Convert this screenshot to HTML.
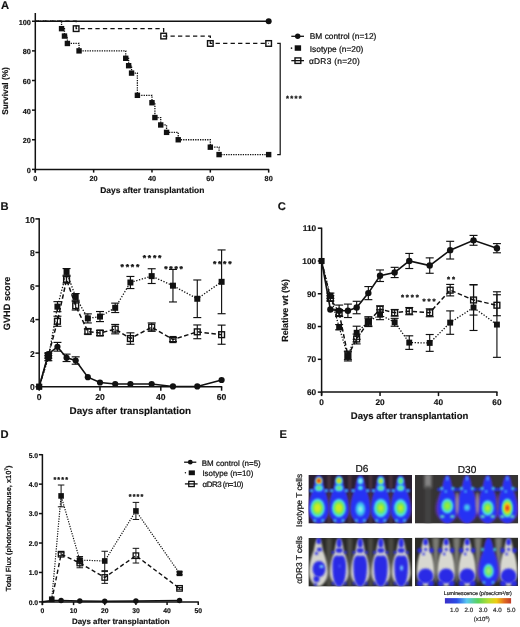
<!DOCTYPE html>
<html><head><meta charset="utf-8"><style>
html,body{margin:0;padding:0;background:#fff;}
body{width:520px;height:627px;overflow:hidden;}
svg{display:block;will-change:transform;text-rendering:geometricPrecision;}
</style></head><body>
<svg width="520" height="627" viewBox="0 0 520 627" font-family='"Liberation Sans", sans-serif'>
<rect width="520" height="627" fill="#fff"/>
<g>
<text x="1.00" y="8.90" font-size="11.2" text-anchor="start" font-weight="bold" fill="#111" stroke="#111" stroke-width="0.15">A</text>
<line x1="35.30" y1="169.40" x2="269.16" y2="169.40" stroke="#111" stroke-width="1.5" stroke-linecap="butt"/>
<line x1="35.30" y1="172.60" x2="35.30" y2="13.00" stroke="#111" stroke-width="1.5" stroke-linecap="butt"/>
<line x1="32.00" y1="169.40" x2="35.30" y2="169.40" stroke="#111" stroke-width="1.5" stroke-linecap="butt"/>
<text x="30.90" y="172.80" font-size="7.3" text-anchor="end" font-weight="bold" fill="#111" stroke="#111" stroke-width="0.15">0</text>
<line x1="32.00" y1="139.77" x2="35.30" y2="139.77" stroke="#111" stroke-width="1.5" stroke-linecap="butt"/>
<text x="30.90" y="143.17" font-size="7.3" text-anchor="end" font-weight="bold" fill="#111" stroke="#111" stroke-width="0.15">20</text>
<line x1="32.00" y1="110.14" x2="35.30" y2="110.14" stroke="#111" stroke-width="1.5" stroke-linecap="butt"/>
<text x="30.90" y="113.54" font-size="7.3" text-anchor="end" font-weight="bold" fill="#111" stroke="#111" stroke-width="0.15">40</text>
<line x1="32.00" y1="80.51" x2="35.30" y2="80.51" stroke="#111" stroke-width="1.5" stroke-linecap="butt"/>
<text x="30.90" y="83.91" font-size="7.3" text-anchor="end" font-weight="bold" fill="#111" stroke="#111" stroke-width="0.15">60</text>
<line x1="32.00" y1="50.88" x2="35.30" y2="50.88" stroke="#111" stroke-width="1.5" stroke-linecap="butt"/>
<text x="30.90" y="54.28" font-size="7.3" text-anchor="end" font-weight="bold" fill="#111" stroke="#111" stroke-width="0.15">80</text>
<line x1="32.00" y1="21.25" x2="35.30" y2="21.25" stroke="#111" stroke-width="1.5" stroke-linecap="butt"/>
<text x="30.90" y="24.65" font-size="7.3" text-anchor="end" font-weight="bold" fill="#111" stroke="#111" stroke-width="0.15">100</text>
<line x1="35.30" y1="169.40" x2="35.30" y2="172.60" stroke="#111" stroke-width="1.5" stroke-linecap="butt"/>
<text x="35.30" y="181.00" font-size="7.3" text-anchor="middle" font-weight="bold" fill="#111" stroke="#111" stroke-width="0.15">0</text>
<line x1="93.64" y1="169.40" x2="93.64" y2="172.60" stroke="#111" stroke-width="1.5" stroke-linecap="butt"/>
<text x="93.64" y="181.00" font-size="7.3" text-anchor="middle" font-weight="bold" fill="#111" stroke="#111" stroke-width="0.15">20</text>
<line x1="151.98" y1="169.40" x2="151.98" y2="172.60" stroke="#111" stroke-width="1.5" stroke-linecap="butt"/>
<text x="151.98" y="181.00" font-size="7.3" text-anchor="middle" font-weight="bold" fill="#111" stroke="#111" stroke-width="0.15">40</text>
<line x1="210.32" y1="169.40" x2="210.32" y2="172.60" stroke="#111" stroke-width="1.5" stroke-linecap="butt"/>
<text x="210.32" y="181.00" font-size="7.3" text-anchor="middle" font-weight="bold" fill="#111" stroke="#111" stroke-width="0.15">60</text>
<line x1="268.66" y1="169.40" x2="268.66" y2="172.60" stroke="#111" stroke-width="1.5" stroke-linecap="butt"/>
<text x="268.66" y="181.00" font-size="7.3" text-anchor="middle" font-weight="bold" fill="#111" stroke="#111" stroke-width="0.15">80</text>
<text x="152.30" y="193.40" font-size="8.45" text-anchor="middle" font-weight="bold" fill="#111" stroke="#111" stroke-width="0.15">Days after transplantation</text>
<text x="7.70" y="91.00" font-size="8.35" text-anchor="middle" font-weight="bold" transform="rotate(-90 7.70 91.00)" fill="#111" stroke="#111" stroke-width="0.15">Survival (%)</text>
<line x1="35.30" y1="21.25" x2="268.66" y2="21.25" stroke="#111" stroke-width="1.5" stroke-linecap="butt"/>
<circle cx="268.66" cy="21.25" r="3.0" fill="#111"/>
<polyline points="35.30,21.25 61.55,21.25 61.55,28.66 64.47,28.66 64.47,36.06 67.39,36.06 67.39,43.47 79.05,43.47 79.05,50.88 125.73,50.88 125.73,58.29 128.64,58.29 128.64,65.70 131.56,65.70 131.56,73.10 137.39,73.10 137.39,95.33 151.98,95.33 151.98,102.73 154.90,102.73 154.90,117.55 160.73,117.55 160.73,124.96 166.56,124.96 166.56,132.36 178.23,132.36 178.23,139.77 210.32,139.77 210.32,147.18 219.07,147.18 219.07,154.59 268.66,154.59" fill="none" stroke="#111" stroke-width="1.3" stroke-dasharray="1.3 1.1" stroke-linecap="butt" stroke-linejoin="miter"/>
<rect x="58.85" y="25.96" width="5.4" height="5.4" fill="#111"/>
<rect x="61.77" y="33.36" width="5.4" height="5.4" fill="#111"/>
<rect x="64.69" y="40.77" width="5.4" height="5.4" fill="#111"/>
<rect x="76.35" y="48.18" width="5.4" height="5.4" fill="#111"/>
<rect x="123.03" y="55.59" width="5.4" height="5.4" fill="#111"/>
<rect x="125.94" y="63.00" width="5.4" height="5.4" fill="#111"/>
<rect x="128.86" y="70.40" width="5.4" height="5.4" fill="#111"/>
<rect x="134.69" y="92.62" width="5.4" height="5.4" fill="#111"/>
<rect x="149.28" y="100.03" width="5.4" height="5.4" fill="#111"/>
<rect x="152.20" y="114.85" width="5.4" height="5.4" fill="#111"/>
<rect x="158.03" y="122.26" width="5.4" height="5.4" fill="#111"/>
<rect x="163.87" y="129.66" width="5.4" height="5.4" fill="#111"/>
<rect x="175.53" y="137.07" width="5.4" height="5.4" fill="#111"/>
<rect x="207.62" y="144.48" width="5.4" height="5.4" fill="#111"/>
<rect x="216.37" y="151.89" width="5.4" height="5.4" fill="#111"/>
<rect x="265.96" y="151.89" width="5.4" height="5.4" fill="#111"/>
<rect x="73.34" y="25.86" width="5.60" height="5.60" fill="none" stroke="#111" stroke-width="1.4"/>
<rect x="160.85" y="33.27" width="5.60" height="5.60" fill="none" stroke="#111" stroke-width="1.4"/>
<rect x="207.52" y="40.67" width="5.60" height="5.60" fill="none" stroke="#111" stroke-width="1.4"/>
<rect x="265.86" y="40.67" width="5.60" height="5.60" fill="none" stroke="#111" stroke-width="1.4"/>
<polyline points="35.30,21.25 76.14,21.25 76.14,28.66 163.65,28.66 163.65,36.06 210.32,36.06 210.32,43.47 268.66,43.47" fill="none" stroke="#111" stroke-width="1.3" stroke-dasharray="4.3 3.2" stroke-linecap="butt" stroke-linejoin="miter"/>
<polyline points="277.20,43.47 280.20,43.47 280.20,154.59 277.20,154.59" fill="none" stroke="#111" stroke-width="1.2" stroke-linecap="butt" stroke-linejoin="miter"/>
<text x="286.06" y="101.02" font-size="7.6" font-weight="bold" fill="#111" stroke="#111" stroke-width="0.3">*</text>
<text x="290.29" y="101.02" font-size="7.6" font-weight="bold" fill="#111" stroke="#111" stroke-width="0.3">*</text>
<text x="294.52" y="101.02" font-size="7.6" font-weight="bold" fill="#111" stroke="#111" stroke-width="0.3">*</text>
<text x="298.75" y="101.02" font-size="7.6" font-weight="bold" fill="#111" stroke="#111" stroke-width="0.3">*</text>
<line x1="291.30" y1="36.30" x2="304.00" y2="36.30" stroke="#111" stroke-width="1.3" stroke-linecap="butt"/>
<circle cx="297.70" cy="36.30" r="2.7" fill="#111"/>
<circle cx="291.50" cy="48.15" r="0.8" fill="#111"/>
<rect x="294.7" y="45.3" width="6.4" height="5.5" fill="#111"/>
<line x1="291.30" y1="60.65" x2="304.00" y2="60.65" stroke="#111" stroke-width="1.3" stroke-linecap="butt"/>
<rect x="295.0" y="57.9" width="5.8" height="5.5" fill="none" stroke="#111" stroke-width="1.4"/>
<text x="309.80" y="39.40" font-size="8.35" text-anchor="start" fill="#111" stroke="#111" stroke-width="0.22">BM control (n=12)</text>
<text x="309.80" y="51.90" font-size="8.35" text-anchor="start" fill="#111" stroke="#111" stroke-width="0.22">Isotype (n=20)</text>
<text x="308.90" y="64.00" font-size="8.35" text-anchor="start" fill="#111" stroke="#111" stroke-width="0.22" textLength="51.0">&#945;DR3 (n=20)</text>
<text x="0.50" y="209.50" font-size="11.2" text-anchor="start" font-weight="bold" fill="#111" stroke="#111" stroke-width="0.15">B</text>
<line x1="38.60" y1="386.70" x2="222.20" y2="386.70" stroke="#111" stroke-width="1.5" stroke-linecap="butt"/>
<line x1="39.20" y1="389.90" x2="39.20" y2="218.30" stroke="#111" stroke-width="1.5" stroke-linecap="butt"/>
<line x1="35.40" y1="386.70" x2="39.20" y2="386.70" stroke="#111" stroke-width="1.5" stroke-linecap="butt"/>
<text x="34.80" y="390.40" font-size="8.6" text-anchor="end" font-weight="bold" fill="#111" stroke="#111" stroke-width="0.15">0</text>
<line x1="35.40" y1="353.14" x2="39.20" y2="353.14" stroke="#111" stroke-width="1.5" stroke-linecap="butt"/>
<text x="34.80" y="356.84" font-size="8.6" text-anchor="end" font-weight="bold" fill="#111" stroke="#111" stroke-width="0.15">2</text>
<line x1="35.40" y1="319.58" x2="39.20" y2="319.58" stroke="#111" stroke-width="1.5" stroke-linecap="butt"/>
<text x="34.80" y="323.28" font-size="8.6" text-anchor="end" font-weight="bold" fill="#111" stroke="#111" stroke-width="0.15">4</text>
<line x1="35.40" y1="286.02" x2="39.20" y2="286.02" stroke="#111" stroke-width="1.5" stroke-linecap="butt"/>
<text x="34.80" y="289.72" font-size="8.6" text-anchor="end" font-weight="bold" fill="#111" stroke="#111" stroke-width="0.15">6</text>
<line x1="35.40" y1="252.46" x2="39.20" y2="252.46" stroke="#111" stroke-width="1.5" stroke-linecap="butt"/>
<text x="34.80" y="256.16" font-size="8.6" text-anchor="end" font-weight="bold" fill="#111" stroke="#111" stroke-width="0.15">8</text>
<line x1="35.40" y1="218.90" x2="39.20" y2="218.90" stroke="#111" stroke-width="1.5" stroke-linecap="butt"/>
<text x="34.80" y="222.60" font-size="8.6" text-anchor="end" font-weight="bold" fill="#111" stroke="#111" stroke-width="0.15">10</text>
<line x1="39.20" y1="386.70" x2="39.20" y2="390.70" stroke="#111" stroke-width="1.5" stroke-linecap="butt"/>
<text x="39.20" y="399.60" font-size="8.6" text-anchor="middle" font-weight="bold" fill="#111" stroke="#111" stroke-width="0.15">0</text>
<line x1="100.00" y1="386.70" x2="100.00" y2="390.70" stroke="#111" stroke-width="1.5" stroke-linecap="butt"/>
<text x="100.00" y="399.60" font-size="8.6" text-anchor="middle" font-weight="bold" fill="#111" stroke="#111" stroke-width="0.15">20</text>
<line x1="160.80" y1="386.70" x2="160.80" y2="390.70" stroke="#111" stroke-width="1.5" stroke-linecap="butt"/>
<text x="160.80" y="399.60" font-size="8.6" text-anchor="middle" font-weight="bold" fill="#111" stroke="#111" stroke-width="0.15">40</text>
<line x1="221.60" y1="386.70" x2="221.60" y2="390.70" stroke="#111" stroke-width="1.5" stroke-linecap="butt"/>
<text x="221.60" y="399.60" font-size="8.6" text-anchor="middle" font-weight="bold" fill="#111" stroke="#111" stroke-width="0.15">60</text>
<text x="130.30" y="413.60" font-size="9.85" text-anchor="middle" font-weight="bold" fill="#111" stroke="#111" stroke-width="0.15">Days after transplantation</text>
<text x="10.00" y="303.40" font-size="9.2" text-anchor="middle" font-weight="bold" transform="rotate(-90 10.00 303.40)" fill="#111" stroke="#111" stroke-width="0.15">GVHD score</text>
<line x1="48.32" y1="355.66" x2="48.32" y2="360.69" stroke="#111" stroke-width="1.15" stroke-linecap="butt"/>
<line x1="44.32" y1="355.66" x2="52.32" y2="355.66" stroke="#111" stroke-width="1.15" stroke-linecap="butt"/>
<line x1="44.32" y1="360.69" x2="52.32" y2="360.69" stroke="#111" stroke-width="1.15" stroke-linecap="butt"/>
<line x1="48.32" y1="353.14" x2="48.32" y2="358.17" stroke="#111" stroke-width="1.15" stroke-linecap="butt"/>
<line x1="44.32" y1="353.14" x2="52.32" y2="353.14" stroke="#111" stroke-width="1.15" stroke-linecap="butt"/>
<line x1="44.32" y1="358.17" x2="52.32" y2="358.17" stroke="#111" stroke-width="1.15" stroke-linecap="butt"/>
<line x1="57.44" y1="301.63" x2="57.44" y2="311.69" stroke="#111" stroke-width="1.15" stroke-linecap="butt"/>
<line x1="53.44" y1="301.63" x2="61.44" y2="301.63" stroke="#111" stroke-width="1.15" stroke-linecap="butt"/>
<line x1="53.44" y1="311.69" x2="61.44" y2="311.69" stroke="#111" stroke-width="1.15" stroke-linecap="butt"/>
<line x1="57.44" y1="316.22" x2="57.44" y2="326.29" stroke="#111" stroke-width="1.15" stroke-linecap="butt"/>
<line x1="53.44" y1="316.22" x2="61.44" y2="316.22" stroke="#111" stroke-width="1.15" stroke-linecap="butt"/>
<line x1="53.44" y1="326.29" x2="61.44" y2="326.29" stroke="#111" stroke-width="1.15" stroke-linecap="butt"/>
<line x1="57.44" y1="342.40" x2="57.44" y2="351.13" stroke="#111" stroke-width="1.15" stroke-linecap="butt"/>
<line x1="53.44" y1="342.40" x2="61.44" y2="342.40" stroke="#111" stroke-width="1.15" stroke-linecap="butt"/>
<line x1="53.44" y1="351.13" x2="61.44" y2="351.13" stroke="#111" stroke-width="1.15" stroke-linecap="butt"/>
<line x1="66.56" y1="268.57" x2="66.56" y2="275.28" stroke="#111" stroke-width="1.15" stroke-linecap="butt"/>
<line x1="62.56" y1="268.57" x2="70.56" y2="268.57" stroke="#111" stroke-width="1.15" stroke-linecap="butt"/>
<line x1="62.56" y1="275.28" x2="70.56" y2="275.28" stroke="#111" stroke-width="1.15" stroke-linecap="butt"/>
<line x1="66.56" y1="276.29" x2="66.56" y2="283.00" stroke="#111" stroke-width="1.15" stroke-linecap="butt"/>
<line x1="62.56" y1="276.29" x2="70.56" y2="276.29" stroke="#111" stroke-width="1.15" stroke-linecap="butt"/>
<line x1="62.56" y1="283.00" x2="70.56" y2="283.00" stroke="#111" stroke-width="1.15" stroke-linecap="butt"/>
<line x1="66.56" y1="354.15" x2="66.56" y2="361.53" stroke="#111" stroke-width="1.15" stroke-linecap="butt"/>
<line x1="62.56" y1="354.15" x2="70.56" y2="354.15" stroke="#111" stroke-width="1.15" stroke-linecap="butt"/>
<line x1="62.56" y1="361.53" x2="70.56" y2="361.53" stroke="#111" stroke-width="1.15" stroke-linecap="butt"/>
<line x1="75.68" y1="293.57" x2="75.68" y2="300.28" stroke="#111" stroke-width="1.15" stroke-linecap="butt"/>
<line x1="71.68" y1="293.57" x2="79.68" y2="293.57" stroke="#111" stroke-width="1.15" stroke-linecap="butt"/>
<line x1="71.68" y1="300.28" x2="79.68" y2="300.28" stroke="#111" stroke-width="1.15" stroke-linecap="butt"/>
<line x1="75.68" y1="301.63" x2="75.68" y2="310.02" stroke="#111" stroke-width="1.15" stroke-linecap="butt"/>
<line x1="71.68" y1="301.63" x2="79.68" y2="301.63" stroke="#111" stroke-width="1.15" stroke-linecap="butt"/>
<line x1="71.68" y1="310.02" x2="79.68" y2="310.02" stroke="#111" stroke-width="1.15" stroke-linecap="butt"/>
<line x1="75.68" y1="356.83" x2="75.68" y2="364.21" stroke="#111" stroke-width="1.15" stroke-linecap="butt"/>
<line x1="71.68" y1="356.83" x2="79.68" y2="356.83" stroke="#111" stroke-width="1.15" stroke-linecap="butt"/>
<line x1="71.68" y1="364.21" x2="79.68" y2="364.21" stroke="#111" stroke-width="1.15" stroke-linecap="butt"/>
<line x1="87.84" y1="313.87" x2="87.84" y2="322.94" stroke="#111" stroke-width="1.15" stroke-linecap="butt"/>
<line x1="83.84" y1="313.87" x2="91.84" y2="313.87" stroke="#111" stroke-width="1.15" stroke-linecap="butt"/>
<line x1="83.84" y1="322.94" x2="91.84" y2="322.94" stroke="#111" stroke-width="1.15" stroke-linecap="butt"/>
<line x1="87.84" y1="328.98" x2="87.84" y2="334.01" stroke="#111" stroke-width="1.15" stroke-linecap="butt"/>
<line x1="83.84" y1="328.98" x2="91.84" y2="328.98" stroke="#111" stroke-width="1.15" stroke-linecap="butt"/>
<line x1="83.84" y1="334.01" x2="91.84" y2="334.01" stroke="#111" stroke-width="1.15" stroke-linecap="butt"/>
<line x1="100.00" y1="311.53" x2="100.00" y2="321.59" stroke="#111" stroke-width="1.15" stroke-linecap="butt"/>
<line x1="96.00" y1="311.53" x2="104.00" y2="311.53" stroke="#111" stroke-width="1.15" stroke-linecap="butt"/>
<line x1="96.00" y1="321.59" x2="104.00" y2="321.59" stroke="#111" stroke-width="1.15" stroke-linecap="butt"/>
<line x1="100.00" y1="330.49" x2="100.00" y2="335.52" stroke="#111" stroke-width="1.15" stroke-linecap="butt"/>
<line x1="96.00" y1="330.49" x2="104.00" y2="330.49" stroke="#111" stroke-width="1.15" stroke-linecap="butt"/>
<line x1="96.00" y1="335.52" x2="104.00" y2="335.52" stroke="#111" stroke-width="1.15" stroke-linecap="butt"/>
<line x1="115.20" y1="303.14" x2="115.20" y2="312.53" stroke="#111" stroke-width="1.15" stroke-linecap="butt"/>
<line x1="111.20" y1="303.14" x2="119.20" y2="303.14" stroke="#111" stroke-width="1.15" stroke-linecap="butt"/>
<line x1="111.20" y1="312.53" x2="119.20" y2="312.53" stroke="#111" stroke-width="1.15" stroke-linecap="butt"/>
<line x1="115.20" y1="324.45" x2="115.20" y2="333.84" stroke="#111" stroke-width="1.15" stroke-linecap="butt"/>
<line x1="111.20" y1="324.45" x2="119.20" y2="324.45" stroke="#111" stroke-width="1.15" stroke-linecap="butt"/>
<line x1="111.20" y1="333.84" x2="119.20" y2="333.84" stroke="#111" stroke-width="1.15" stroke-linecap="butt"/>
<line x1="130.40" y1="276.46" x2="130.40" y2="288.54" stroke="#111" stroke-width="1.15" stroke-linecap="butt"/>
<line x1="126.40" y1="276.46" x2="134.40" y2="276.46" stroke="#111" stroke-width="1.15" stroke-linecap="butt"/>
<line x1="126.40" y1="288.54" x2="134.40" y2="288.54" stroke="#111" stroke-width="1.15" stroke-linecap="butt"/>
<line x1="130.40" y1="332.84" x2="130.40" y2="344.25" stroke="#111" stroke-width="1.15" stroke-linecap="butt"/>
<line x1="126.40" y1="332.84" x2="134.40" y2="332.84" stroke="#111" stroke-width="1.15" stroke-linecap="butt"/>
<line x1="126.40" y1="344.25" x2="134.40" y2="344.25" stroke="#111" stroke-width="1.15" stroke-linecap="butt"/>
<line x1="151.68" y1="268.74" x2="151.68" y2="283.50" stroke="#111" stroke-width="1.15" stroke-linecap="butt"/>
<line x1="147.68" y1="268.74" x2="155.68" y2="268.74" stroke="#111" stroke-width="1.15" stroke-linecap="butt"/>
<line x1="147.68" y1="283.50" x2="155.68" y2="283.50" stroke="#111" stroke-width="1.15" stroke-linecap="butt"/>
<line x1="151.68" y1="322.94" x2="151.68" y2="331.33" stroke="#111" stroke-width="1.15" stroke-linecap="butt"/>
<line x1="147.68" y1="322.94" x2="155.68" y2="322.94" stroke="#111" stroke-width="1.15" stroke-linecap="butt"/>
<line x1="147.68" y1="331.33" x2="155.68" y2="331.33" stroke="#111" stroke-width="1.15" stroke-linecap="butt"/>
<line x1="172.96" y1="269.41" x2="172.96" y2="301.96" stroke="#111" stroke-width="1.15" stroke-linecap="butt"/>
<line x1="168.96" y1="269.41" x2="176.96" y2="269.41" stroke="#111" stroke-width="1.15" stroke-linecap="butt"/>
<line x1="168.96" y1="301.96" x2="176.96" y2="301.96" stroke="#111" stroke-width="1.15" stroke-linecap="butt"/>
<line x1="172.96" y1="337.53" x2="172.96" y2="341.56" stroke="#111" stroke-width="1.15" stroke-linecap="butt"/>
<line x1="168.96" y1="337.53" x2="176.96" y2="337.53" stroke="#111" stroke-width="1.15" stroke-linecap="butt"/>
<line x1="168.96" y1="341.56" x2="176.96" y2="341.56" stroke="#111" stroke-width="1.15" stroke-linecap="butt"/>
<line x1="197.28" y1="279.98" x2="197.28" y2="317.57" stroke="#111" stroke-width="1.15" stroke-linecap="butt"/>
<line x1="193.28" y1="279.98" x2="201.28" y2="279.98" stroke="#111" stroke-width="1.15" stroke-linecap="butt"/>
<line x1="193.28" y1="317.57" x2="201.28" y2="317.57" stroke="#111" stroke-width="1.15" stroke-linecap="butt"/>
<line x1="197.28" y1="324.95" x2="197.28" y2="338.71" stroke="#111" stroke-width="1.15" stroke-linecap="butt"/>
<line x1="193.28" y1="324.95" x2="201.28" y2="324.95" stroke="#111" stroke-width="1.15" stroke-linecap="butt"/>
<line x1="193.28" y1="338.71" x2="201.28" y2="338.71" stroke="#111" stroke-width="1.15" stroke-linecap="butt"/>
<line x1="221.60" y1="249.94" x2="221.60" y2="313.71" stroke="#111" stroke-width="1.15" stroke-linecap="butt"/>
<line x1="217.60" y1="249.94" x2="225.60" y2="249.94" stroke="#111" stroke-width="1.15" stroke-linecap="butt"/>
<line x1="217.60" y1="313.71" x2="225.60" y2="313.71" stroke="#111" stroke-width="1.15" stroke-linecap="butt"/>
<line x1="221.60" y1="325.12" x2="221.60" y2="344.25" stroke="#111" stroke-width="1.15" stroke-linecap="butt"/>
<line x1="217.60" y1="325.12" x2="225.60" y2="325.12" stroke="#111" stroke-width="1.15" stroke-linecap="butt"/>
<line x1="217.60" y1="344.25" x2="225.60" y2="344.25" stroke="#111" stroke-width="1.15" stroke-linecap="butt"/>
<polyline points="39.20,386.70 48.32,358.17 57.44,306.66 66.56,271.92 75.68,296.93 87.84,318.41 100.00,316.56 115.20,307.83 130.40,282.50 151.68,276.12 172.96,285.68 197.28,298.77 221.60,281.82" fill="none" stroke="#111" stroke-width="1.3" stroke-dasharray="1.3 1.6" stroke-linecap="butt" stroke-linejoin="miter"/>
<polyline points="39.20,386.70 48.32,355.66 57.44,321.26 66.56,279.64 75.68,305.82 87.84,331.49 100.00,333.00 115.20,329.14 130.40,338.54 151.68,327.13 172.96,339.55 197.28,331.83 221.60,334.68" fill="none" stroke="#111" stroke-width="1.5" stroke-dasharray="4.5 2.5" stroke-linecap="butt" stroke-linejoin="miter"/>
<polyline points="39.20,386.70 48.32,353.98 57.44,346.76 66.56,357.84 75.68,360.52 87.84,377.14 100.00,382.50 115.20,384.02 130.40,384.02 151.68,384.02 172.96,386.45 197.28,386.45 221.60,379.99" fill="none" stroke="#111" stroke-width="1.6" stroke-linecap="butt" stroke-linejoin="miter"/>
<rect x="36.20" y="383.70" width="6.0" height="6.0" fill="#111"/>
<rect x="45.32" y="355.17" width="6.0" height="6.0" fill="#111"/>
<rect x="54.44" y="303.66" width="6.0" height="6.0" fill="#111"/>
<rect x="63.56" y="268.92" width="6.0" height="6.0" fill="#111"/>
<rect x="72.68" y="293.93" width="6.0" height="6.0" fill="#111"/>
<rect x="84.84" y="315.41" width="6.0" height="6.0" fill="#111"/>
<rect x="97.00" y="313.56" width="6.0" height="6.0" fill="#111"/>
<rect x="112.20" y="304.83" width="6.0" height="6.0" fill="#111"/>
<rect x="127.40" y="279.50" width="6.0" height="6.0" fill="#111"/>
<rect x="148.68" y="273.12" width="6.0" height="6.0" fill="#111"/>
<rect x="169.96" y="282.68" width="6.0" height="6.0" fill="#111"/>
<rect x="194.28" y="295.77" width="6.0" height="6.0" fill="#111"/>
<rect x="218.60" y="278.82" width="6.0" height="6.0" fill="#111"/>
<rect x="45.42" y="352.76" width="5.80" height="5.80" fill="none" stroke="#111" stroke-width="1.4"/>
<rect x="54.54" y="318.36" width="5.80" height="5.80" fill="none" stroke="#111" stroke-width="1.4"/>
<rect x="63.66" y="276.74" width="5.80" height="5.80" fill="none" stroke="#111" stroke-width="1.4"/>
<rect x="72.78" y="302.92" width="5.80" height="5.80" fill="none" stroke="#111" stroke-width="1.4"/>
<rect x="84.94" y="328.59" width="5.80" height="5.80" fill="none" stroke="#111" stroke-width="1.4"/>
<rect x="97.10" y="330.10" width="5.80" height="5.80" fill="none" stroke="#111" stroke-width="1.4"/>
<rect x="112.30" y="326.24" width="5.80" height="5.80" fill="none" stroke="#111" stroke-width="1.4"/>
<rect x="127.50" y="335.64" width="5.80" height="5.80" fill="none" stroke="#111" stroke-width="1.4"/>
<rect x="148.78" y="324.23" width="5.80" height="5.80" fill="none" stroke="#111" stroke-width="1.4"/>
<rect x="170.06" y="336.65" width="5.80" height="5.80" fill="none" stroke="#111" stroke-width="1.4"/>
<rect x="194.38" y="328.93" width="5.80" height="5.80" fill="none" stroke="#111" stroke-width="1.4"/>
<rect x="218.70" y="331.78" width="5.80" height="5.80" fill="none" stroke="#111" stroke-width="1.4"/>
<circle cx="48.32" cy="353.98" r="3.1" fill="#111"/>
<circle cx="57.44" cy="346.76" r="3.1" fill="#111"/>
<circle cx="66.56" cy="357.84" r="3.1" fill="#111"/>
<circle cx="75.68" cy="360.52" r="3.1" fill="#111"/>
<circle cx="87.84" cy="377.14" r="3.1" fill="#111"/>
<circle cx="100.00" cy="382.50" r="3.1" fill="#111"/>
<circle cx="115.20" cy="384.02" r="3.1" fill="#111"/>
<circle cx="130.40" cy="384.02" r="3.1" fill="#111"/>
<circle cx="151.68" cy="384.02" r="3.1" fill="#111"/>
<circle cx="172.96" cy="386.45" r="3.1" fill="#111"/>
<circle cx="197.28" cy="386.45" r="3.1" fill="#111"/>
<circle cx="221.60" cy="379.99" r="3.1" fill="#111"/>
<rect x="36.30" y="383.80" width="5.8" height="5.8" fill="#111"/>
<text x="120.62" y="269.52" font-size="8.6" font-weight="bold" fill="#111" stroke="#111" stroke-width="0.3">*</text>
<text x="125.72" y="269.52" font-size="8.6" font-weight="bold" fill="#111" stroke="#111" stroke-width="0.3">*</text>
<text x="130.82" y="269.52" font-size="8.6" font-weight="bold" fill="#111" stroke="#111" stroke-width="0.3">*</text>
<text x="135.92" y="269.52" font-size="8.6" font-weight="bold" fill="#111" stroke="#111" stroke-width="0.3">*</text>
<text x="142.72" y="260.82" font-size="8.6" font-weight="bold" fill="#111" stroke="#111" stroke-width="0.3">*</text>
<text x="147.82" y="260.82" font-size="8.6" font-weight="bold" fill="#111" stroke="#111" stroke-width="0.3">*</text>
<text x="152.92" y="260.82" font-size="8.6" font-weight="bold" fill="#111" stroke="#111" stroke-width="0.3">*</text>
<text x="158.02" y="260.82" font-size="8.6" font-weight="bold" fill="#111" stroke="#111" stroke-width="0.3">*</text>
<text x="164.22" y="271.92" font-size="8.6" font-weight="bold" fill="#111" stroke="#111" stroke-width="0.3">*</text>
<text x="169.32" y="271.92" font-size="8.6" font-weight="bold" fill="#111" stroke="#111" stroke-width="0.3">*</text>
<text x="174.42" y="271.92" font-size="8.6" font-weight="bold" fill="#111" stroke="#111" stroke-width="0.3">*</text>
<text x="179.52" y="271.92" font-size="8.6" font-weight="bold" fill="#111" stroke="#111" stroke-width="0.3">*</text>
<text x="212.92" y="267.02" font-size="8.6" font-weight="bold" fill="#111" stroke="#111" stroke-width="0.3">*</text>
<text x="218.02" y="267.02" font-size="8.6" font-weight="bold" fill="#111" stroke="#111" stroke-width="0.3">*</text>
<text x="223.12" y="267.02" font-size="8.6" font-weight="bold" fill="#111" stroke="#111" stroke-width="0.3">*</text>
<text x="228.22" y="267.02" font-size="8.6" font-weight="bold" fill="#111" stroke="#111" stroke-width="0.3">*</text>
<text x="277.80" y="209.90" font-size="11.2" text-anchor="start" font-weight="bold" fill="#111" stroke="#111" stroke-width="0.15">C</text>
<line x1="321.00" y1="392.10" x2="497.52" y2="392.10" stroke="#111" stroke-width="1.5" stroke-linecap="butt"/>
<line x1="321.60" y1="395.30" x2="321.60" y2="227.60" stroke="#111" stroke-width="1.5" stroke-linecap="butt"/>
<line x1="317.80" y1="392.10" x2="321.60" y2="392.10" stroke="#111" stroke-width="1.5" stroke-linecap="butt"/>
<text x="316.20" y="395.00" font-size="8.3" text-anchor="end" font-weight="bold" fill="#111" stroke="#111" stroke-width="0.15">60</text>
<line x1="317.80" y1="359.32" x2="321.60" y2="359.32" stroke="#111" stroke-width="1.5" stroke-linecap="butt"/>
<text x="316.20" y="362.22" font-size="8.3" text-anchor="end" font-weight="bold" fill="#111" stroke="#111" stroke-width="0.15">70</text>
<line x1="317.80" y1="326.54" x2="321.60" y2="326.54" stroke="#111" stroke-width="1.5" stroke-linecap="butt"/>
<text x="316.20" y="329.44" font-size="8.3" text-anchor="end" font-weight="bold" fill="#111" stroke="#111" stroke-width="0.15">80</text>
<line x1="317.80" y1="293.76" x2="321.60" y2="293.76" stroke="#111" stroke-width="1.5" stroke-linecap="butt"/>
<text x="316.20" y="296.66" font-size="8.3" text-anchor="end" font-weight="bold" fill="#111" stroke="#111" stroke-width="0.15">90</text>
<line x1="317.80" y1="260.98" x2="321.60" y2="260.98" stroke="#111" stroke-width="1.5" stroke-linecap="butt"/>
<text x="316.20" y="263.88" font-size="8.3" text-anchor="end" font-weight="bold" fill="#111" stroke="#111" stroke-width="0.15">100</text>
<line x1="317.80" y1="228.20" x2="321.60" y2="228.20" stroke="#111" stroke-width="1.5" stroke-linecap="butt"/>
<text x="316.20" y="231.10" font-size="8.3" text-anchor="end" font-weight="bold" fill="#111" stroke="#111" stroke-width="0.15">110</text>
<line x1="321.60" y1="392.10" x2="321.60" y2="396.10" stroke="#111" stroke-width="1.5" stroke-linecap="butt"/>
<text x="321.60" y="404.50" font-size="8.3" text-anchor="middle" font-weight="bold" fill="#111" stroke="#111" stroke-width="0.15">0</text>
<line x1="380.04" y1="392.10" x2="380.04" y2="396.10" stroke="#111" stroke-width="1.5" stroke-linecap="butt"/>
<text x="380.04" y="404.50" font-size="8.3" text-anchor="middle" font-weight="bold" fill="#111" stroke="#111" stroke-width="0.15">20</text>
<line x1="438.48" y1="392.10" x2="438.48" y2="396.10" stroke="#111" stroke-width="1.5" stroke-linecap="butt"/>
<text x="438.48" y="404.50" font-size="8.3" text-anchor="middle" font-weight="bold" fill="#111" stroke="#111" stroke-width="0.15">40</text>
<line x1="496.92" y1="392.10" x2="496.92" y2="396.10" stroke="#111" stroke-width="1.5" stroke-linecap="butt"/>
<text x="496.92" y="404.50" font-size="8.3" text-anchor="middle" font-weight="bold" fill="#111" stroke="#111" stroke-width="0.15">60</text>
<text x="409.60" y="419.30" font-size="9.54" text-anchor="middle" font-weight="bold" fill="#111" stroke="#111" stroke-width="0.15">Days after transplantation</text>
<text x="288.30" y="310.40" font-size="8.9" text-anchor="middle" font-weight="bold" transform="rotate(-90 288.30 310.40)" fill="#111" stroke="#111" stroke-width="0.15">Relative wt (%)</text>
<line x1="330.37" y1="293.10" x2="330.37" y2="298.35" stroke="#111" stroke-width="1.15" stroke-linecap="butt"/>
<line x1="326.37" y1="293.10" x2="334.37" y2="293.10" stroke="#111" stroke-width="1.15" stroke-linecap="butt"/>
<line x1="326.37" y1="298.35" x2="334.37" y2="298.35" stroke="#111" stroke-width="1.15" stroke-linecap="butt"/>
<line x1="330.37" y1="295.73" x2="330.37" y2="300.97" stroke="#111" stroke-width="1.15" stroke-linecap="butt"/>
<line x1="326.37" y1="295.73" x2="334.37" y2="295.73" stroke="#111" stroke-width="1.15" stroke-linecap="butt"/>
<line x1="326.37" y1="300.97" x2="334.37" y2="300.97" stroke="#111" stroke-width="1.15" stroke-linecap="butt"/>
<line x1="339.13" y1="324.57" x2="339.13" y2="329.82" stroke="#111" stroke-width="1.15" stroke-linecap="butt"/>
<line x1="335.13" y1="324.57" x2="343.13" y2="324.57" stroke="#111" stroke-width="1.15" stroke-linecap="butt"/>
<line x1="335.13" y1="329.82" x2="343.13" y2="329.82" stroke="#111" stroke-width="1.15" stroke-linecap="butt"/>
<line x1="339.13" y1="309.49" x2="339.13" y2="316.05" stroke="#111" stroke-width="1.15" stroke-linecap="butt"/>
<line x1="335.13" y1="309.49" x2="343.13" y2="309.49" stroke="#111" stroke-width="1.15" stroke-linecap="butt"/>
<line x1="335.13" y1="316.05" x2="343.13" y2="316.05" stroke="#111" stroke-width="1.15" stroke-linecap="butt"/>
<line x1="339.13" y1="305.07" x2="339.13" y2="316.54" stroke="#111" stroke-width="1.15" stroke-linecap="butt"/>
<line x1="335.13" y1="305.07" x2="343.13" y2="305.07" stroke="#111" stroke-width="1.15" stroke-linecap="butt"/>
<line x1="335.13" y1="316.54" x2="343.13" y2="316.54" stroke="#111" stroke-width="1.15" stroke-linecap="butt"/>
<line x1="347.90" y1="351.12" x2="347.90" y2="360.96" stroke="#111" stroke-width="1.15" stroke-linecap="butt"/>
<line x1="343.90" y1="351.12" x2="351.90" y2="351.12" stroke="#111" stroke-width="1.15" stroke-linecap="butt"/>
<line x1="343.90" y1="360.96" x2="351.90" y2="360.96" stroke="#111" stroke-width="1.15" stroke-linecap="butt"/>
<line x1="347.90" y1="351.78" x2="347.90" y2="359.65" stroke="#111" stroke-width="1.15" stroke-linecap="butt"/>
<line x1="343.90" y1="351.78" x2="351.90" y2="351.78" stroke="#111" stroke-width="1.15" stroke-linecap="butt"/>
<line x1="343.90" y1="359.65" x2="351.90" y2="359.65" stroke="#111" stroke-width="1.15" stroke-linecap="butt"/>
<line x1="347.90" y1="304.09" x2="347.90" y2="317.53" stroke="#111" stroke-width="1.15" stroke-linecap="butt"/>
<line x1="343.90" y1="304.09" x2="351.90" y2="304.09" stroke="#111" stroke-width="1.15" stroke-linecap="butt"/>
<line x1="343.90" y1="317.53" x2="351.90" y2="317.53" stroke="#111" stroke-width="1.15" stroke-linecap="butt"/>
<line x1="356.66" y1="326.21" x2="356.66" y2="339.32" stroke="#111" stroke-width="1.15" stroke-linecap="butt"/>
<line x1="352.66" y1="326.21" x2="360.66" y2="326.21" stroke="#111" stroke-width="1.15" stroke-linecap="butt"/>
<line x1="352.66" y1="339.32" x2="360.66" y2="339.32" stroke="#111" stroke-width="1.15" stroke-linecap="butt"/>
<line x1="356.66" y1="334.08" x2="356.66" y2="343.91" stroke="#111" stroke-width="1.15" stroke-linecap="butt"/>
<line x1="352.66" y1="334.08" x2="360.66" y2="334.08" stroke="#111" stroke-width="1.15" stroke-linecap="butt"/>
<line x1="352.66" y1="343.91" x2="360.66" y2="343.91" stroke="#111" stroke-width="1.15" stroke-linecap="butt"/>
<line x1="356.66" y1="301.30" x2="356.66" y2="313.76" stroke="#111" stroke-width="1.15" stroke-linecap="butt"/>
<line x1="352.66" y1="301.30" x2="360.66" y2="301.30" stroke="#111" stroke-width="1.15" stroke-linecap="butt"/>
<line x1="352.66" y1="313.76" x2="360.66" y2="313.76" stroke="#111" stroke-width="1.15" stroke-linecap="butt"/>
<line x1="368.35" y1="316.71" x2="368.35" y2="326.54" stroke="#111" stroke-width="1.15" stroke-linecap="butt"/>
<line x1="364.35" y1="316.71" x2="372.35" y2="316.71" stroke="#111" stroke-width="1.15" stroke-linecap="butt"/>
<line x1="364.35" y1="326.54" x2="372.35" y2="326.54" stroke="#111" stroke-width="1.15" stroke-linecap="butt"/>
<line x1="368.35" y1="318.02" x2="368.35" y2="325.88" stroke="#111" stroke-width="1.15" stroke-linecap="butt"/>
<line x1="364.35" y1="318.02" x2="372.35" y2="318.02" stroke="#111" stroke-width="1.15" stroke-linecap="butt"/>
<line x1="364.35" y1="325.88" x2="372.35" y2="325.88" stroke="#111" stroke-width="1.15" stroke-linecap="butt"/>
<line x1="368.35" y1="286.55" x2="368.35" y2="299.66" stroke="#111" stroke-width="1.15" stroke-linecap="butt"/>
<line x1="364.35" y1="286.55" x2="372.35" y2="286.55" stroke="#111" stroke-width="1.15" stroke-linecap="butt"/>
<line x1="364.35" y1="299.66" x2="372.35" y2="299.66" stroke="#111" stroke-width="1.15" stroke-linecap="butt"/>
<line x1="380.04" y1="309.82" x2="380.04" y2="319.66" stroke="#111" stroke-width="1.15" stroke-linecap="butt"/>
<line x1="376.04" y1="309.82" x2="384.04" y2="309.82" stroke="#111" stroke-width="1.15" stroke-linecap="butt"/>
<line x1="376.04" y1="319.66" x2="384.04" y2="319.66" stroke="#111" stroke-width="1.15" stroke-linecap="butt"/>
<line x1="380.04" y1="305.89" x2="380.04" y2="312.44" stroke="#111" stroke-width="1.15" stroke-linecap="butt"/>
<line x1="376.04" y1="305.89" x2="384.04" y2="305.89" stroke="#111" stroke-width="1.15" stroke-linecap="butt"/>
<line x1="376.04" y1="312.44" x2="384.04" y2="312.44" stroke="#111" stroke-width="1.15" stroke-linecap="butt"/>
<line x1="380.04" y1="269.96" x2="380.04" y2="281.50" stroke="#111" stroke-width="1.15" stroke-linecap="butt"/>
<line x1="376.04" y1="269.96" x2="384.04" y2="269.96" stroke="#111" stroke-width="1.15" stroke-linecap="butt"/>
<line x1="376.04" y1="281.50" x2="384.04" y2="281.50" stroke="#111" stroke-width="1.15" stroke-linecap="butt"/>
<line x1="394.65" y1="318.35" x2="394.65" y2="326.21" stroke="#111" stroke-width="1.15" stroke-linecap="butt"/>
<line x1="390.65" y1="318.35" x2="398.65" y2="318.35" stroke="#111" stroke-width="1.15" stroke-linecap="butt"/>
<line x1="390.65" y1="326.21" x2="398.65" y2="326.21" stroke="#111" stroke-width="1.15" stroke-linecap="butt"/>
<line x1="394.65" y1="309.49" x2="394.65" y2="316.05" stroke="#111" stroke-width="1.15" stroke-linecap="butt"/>
<line x1="390.65" y1="309.49" x2="398.65" y2="309.49" stroke="#111" stroke-width="1.15" stroke-linecap="butt"/>
<line x1="390.65" y1="316.05" x2="398.65" y2="316.05" stroke="#111" stroke-width="1.15" stroke-linecap="butt"/>
<line x1="394.65" y1="267.34" x2="394.65" y2="277.57" stroke="#111" stroke-width="1.15" stroke-linecap="butt"/>
<line x1="390.65" y1="267.34" x2="398.65" y2="267.34" stroke="#111" stroke-width="1.15" stroke-linecap="butt"/>
<line x1="390.65" y1="277.57" x2="398.65" y2="277.57" stroke="#111" stroke-width="1.15" stroke-linecap="butt"/>
<line x1="409.26" y1="335.82" x2="409.26" y2="349.39" stroke="#111" stroke-width="1.15" stroke-linecap="butt"/>
<line x1="405.26" y1="335.82" x2="413.26" y2="335.82" stroke="#111" stroke-width="1.15" stroke-linecap="butt"/>
<line x1="405.26" y1="349.39" x2="413.26" y2="349.39" stroke="#111" stroke-width="1.15" stroke-linecap="butt"/>
<line x1="409.26" y1="307.53" x2="409.26" y2="314.74" stroke="#111" stroke-width="1.15" stroke-linecap="butt"/>
<line x1="405.26" y1="307.53" x2="413.26" y2="307.53" stroke="#111" stroke-width="1.15" stroke-linecap="butt"/>
<line x1="405.26" y1="314.74" x2="413.26" y2="314.74" stroke="#111" stroke-width="1.15" stroke-linecap="butt"/>
<line x1="409.26" y1="253.44" x2="409.26" y2="268.52" stroke="#111" stroke-width="1.15" stroke-linecap="butt"/>
<line x1="405.26" y1="253.44" x2="413.26" y2="253.44" stroke="#111" stroke-width="1.15" stroke-linecap="butt"/>
<line x1="405.26" y1="268.52" x2="413.26" y2="268.52" stroke="#111" stroke-width="1.15" stroke-linecap="butt"/>
<line x1="429.71" y1="334.51" x2="429.71" y2="351.35" stroke="#111" stroke-width="1.15" stroke-linecap="butt"/>
<line x1="425.71" y1="334.51" x2="433.71" y2="334.51" stroke="#111" stroke-width="1.15" stroke-linecap="butt"/>
<line x1="425.71" y1="351.35" x2="433.71" y2="351.35" stroke="#111" stroke-width="1.15" stroke-linecap="butt"/>
<line x1="429.71" y1="308.84" x2="429.71" y2="316.71" stroke="#111" stroke-width="1.15" stroke-linecap="butt"/>
<line x1="425.71" y1="308.84" x2="433.71" y2="308.84" stroke="#111" stroke-width="1.15" stroke-linecap="butt"/>
<line x1="425.71" y1="316.71" x2="433.71" y2="316.71" stroke="#111" stroke-width="1.15" stroke-linecap="butt"/>
<line x1="429.71" y1="257.87" x2="429.71" y2="273.27" stroke="#111" stroke-width="1.15" stroke-linecap="butt"/>
<line x1="425.71" y1="257.87" x2="433.71" y2="257.87" stroke="#111" stroke-width="1.15" stroke-linecap="butt"/>
<line x1="425.71" y1="273.27" x2="433.71" y2="273.27" stroke="#111" stroke-width="1.15" stroke-linecap="butt"/>
<line x1="450.17" y1="310.90" x2="450.17" y2="334.31" stroke="#111" stroke-width="1.15" stroke-linecap="butt"/>
<line x1="446.17" y1="310.90" x2="454.17" y2="310.90" stroke="#111" stroke-width="1.15" stroke-linecap="butt"/>
<line x1="446.17" y1="334.31" x2="454.17" y2="334.31" stroke="#111" stroke-width="1.15" stroke-linecap="butt"/>
<line x1="450.17" y1="284.42" x2="450.17" y2="295.89" stroke="#111" stroke-width="1.15" stroke-linecap="butt"/>
<line x1="446.17" y1="284.42" x2="454.17" y2="284.42" stroke="#111" stroke-width="1.15" stroke-linecap="butt"/>
<line x1="446.17" y1="295.89" x2="454.17" y2="295.89" stroke="#111" stroke-width="1.15" stroke-linecap="butt"/>
<line x1="450.17" y1="241.31" x2="450.17" y2="259.01" stroke="#111" stroke-width="1.15" stroke-linecap="butt"/>
<line x1="446.17" y1="241.31" x2="454.17" y2="241.31" stroke="#111" stroke-width="1.15" stroke-linecap="butt"/>
<line x1="446.17" y1="259.01" x2="454.17" y2="259.01" stroke="#111" stroke-width="1.15" stroke-linecap="butt"/>
<line x1="473.54" y1="284.58" x2="473.54" y2="330.47" stroke="#111" stroke-width="1.15" stroke-linecap="butt"/>
<line x1="469.54" y1="284.58" x2="477.54" y2="284.58" stroke="#111" stroke-width="1.15" stroke-linecap="butt"/>
<line x1="469.54" y1="330.47" x2="477.54" y2="330.47" stroke="#111" stroke-width="1.15" stroke-linecap="butt"/>
<line x1="473.54" y1="284.91" x2="473.54" y2="315.07" stroke="#111" stroke-width="1.15" stroke-linecap="butt"/>
<line x1="469.54" y1="284.91" x2="477.54" y2="284.91" stroke="#111" stroke-width="1.15" stroke-linecap="butt"/>
<line x1="469.54" y1="315.07" x2="477.54" y2="315.07" stroke="#111" stroke-width="1.15" stroke-linecap="butt"/>
<line x1="473.54" y1="235.41" x2="473.54" y2="245.25" stroke="#111" stroke-width="1.15" stroke-linecap="butt"/>
<line x1="469.54" y1="235.41" x2="477.54" y2="235.41" stroke="#111" stroke-width="1.15" stroke-linecap="butt"/>
<line x1="469.54" y1="245.25" x2="477.54" y2="245.25" stroke="#111" stroke-width="1.15" stroke-linecap="butt"/>
<line x1="496.92" y1="291.79" x2="496.92" y2="357.35" stroke="#111" stroke-width="1.15" stroke-linecap="butt"/>
<line x1="492.92" y1="291.79" x2="500.92" y2="291.79" stroke="#111" stroke-width="1.15" stroke-linecap="butt"/>
<line x1="492.92" y1="357.35" x2="500.92" y2="357.35" stroke="#111" stroke-width="1.15" stroke-linecap="butt"/>
<line x1="496.92" y1="294.74" x2="496.92" y2="315.72" stroke="#111" stroke-width="1.15" stroke-linecap="butt"/>
<line x1="492.92" y1="294.74" x2="500.92" y2="294.74" stroke="#111" stroke-width="1.15" stroke-linecap="butt"/>
<line x1="492.92" y1="315.72" x2="500.92" y2="315.72" stroke="#111" stroke-width="1.15" stroke-linecap="butt"/>
<line x1="496.92" y1="243.61" x2="496.92" y2="252.79" stroke="#111" stroke-width="1.15" stroke-linecap="butt"/>
<line x1="492.92" y1="243.61" x2="500.92" y2="243.61" stroke="#111" stroke-width="1.15" stroke-linecap="butt"/>
<line x1="492.92" y1="252.79" x2="500.92" y2="252.79" stroke="#111" stroke-width="1.15" stroke-linecap="butt"/>
<polyline points="321.60,260.98 330.37,295.73 339.13,327.20 347.90,356.04 356.66,332.77 368.35,321.62 380.04,314.74 394.65,322.28 409.26,342.60 429.71,342.93 450.17,322.61 473.54,307.53 496.92,324.57" fill="none" stroke="#111" stroke-width="1.3" stroke-dasharray="1.3 1.6" stroke-linecap="butt" stroke-linejoin="miter"/>
<polyline points="321.60,260.98 330.37,298.35 339.13,312.77 347.90,355.71 356.66,339.00 368.35,321.95 380.04,309.17 394.65,312.77 409.26,311.13 429.71,312.77 450.17,290.15 473.54,299.99 496.92,305.23" fill="none" stroke="#111" stroke-width="1.5" stroke-dasharray="4.5 2.5" stroke-linecap="butt" stroke-linejoin="miter"/>
<polyline points="321.60,260.98 330.37,309.49 339.13,310.81 347.90,310.81 356.66,307.53 368.35,293.10 380.04,275.73 394.65,272.45 409.26,260.98 429.71,265.57 450.17,250.16 473.54,240.33 496.92,248.20" fill="none" stroke="#111" stroke-width="1.6" stroke-linecap="butt" stroke-linejoin="miter"/>
<rect x="327.42" y="292.78" width="5.9" height="5.9" fill="#111"/>
<rect x="336.18" y="324.25" width="5.9" height="5.9" fill="#111"/>
<rect x="344.95" y="353.09" width="5.9" height="5.9" fill="#111"/>
<rect x="353.71" y="329.82" width="5.9" height="5.9" fill="#111"/>
<rect x="365.40" y="318.67" width="5.9" height="5.9" fill="#111"/>
<rect x="377.09" y="311.79" width="5.9" height="5.9" fill="#111"/>
<rect x="391.70" y="319.33" width="5.9" height="5.9" fill="#111"/>
<rect x="406.31" y="339.65" width="5.9" height="5.9" fill="#111"/>
<rect x="426.76" y="339.98" width="5.9" height="5.9" fill="#111"/>
<rect x="447.22" y="319.66" width="5.9" height="5.9" fill="#111"/>
<rect x="470.59" y="304.58" width="5.9" height="5.9" fill="#111"/>
<rect x="493.97" y="321.62" width="5.9" height="5.9" fill="#111"/>
<rect x="327.47" y="295.45" width="5.80" height="5.80" fill="none" stroke="#111" stroke-width="1.4"/>
<rect x="336.23" y="309.87" width="5.80" height="5.80" fill="none" stroke="#111" stroke-width="1.4"/>
<rect x="345.00" y="352.81" width="5.80" height="5.80" fill="none" stroke="#111" stroke-width="1.4"/>
<rect x="353.76" y="336.10" width="5.80" height="5.80" fill="none" stroke="#111" stroke-width="1.4"/>
<rect x="365.45" y="319.05" width="5.80" height="5.80" fill="none" stroke="#111" stroke-width="1.4"/>
<rect x="377.14" y="306.27" width="5.80" height="5.80" fill="none" stroke="#111" stroke-width="1.4"/>
<rect x="391.75" y="309.87" width="5.80" height="5.80" fill="none" stroke="#111" stroke-width="1.4"/>
<rect x="406.36" y="308.23" width="5.80" height="5.80" fill="none" stroke="#111" stroke-width="1.4"/>
<rect x="426.81" y="309.87" width="5.80" height="5.80" fill="none" stroke="#111" stroke-width="1.4"/>
<rect x="447.27" y="287.25" width="5.80" height="5.80" fill="none" stroke="#111" stroke-width="1.4"/>
<rect x="470.64" y="297.09" width="5.80" height="5.80" fill="none" stroke="#111" stroke-width="1.4"/>
<rect x="494.02" y="302.33" width="5.80" height="5.80" fill="none" stroke="#111" stroke-width="1.4"/>
<circle cx="330.37" cy="309.49" r="3.2" fill="#111"/>
<circle cx="339.13" cy="310.81" r="3.2" fill="#111"/>
<circle cx="347.90" cy="310.81" r="3.2" fill="#111"/>
<circle cx="356.66" cy="307.53" r="3.2" fill="#111"/>
<circle cx="368.35" cy="293.10" r="3.2" fill="#111"/>
<circle cx="380.04" cy="275.73" r="3.2" fill="#111"/>
<circle cx="394.65" cy="272.45" r="3.2" fill="#111"/>
<circle cx="409.26" cy="260.98" r="3.2" fill="#111"/>
<circle cx="429.71" cy="265.57" r="3.2" fill="#111"/>
<circle cx="450.17" cy="250.16" r="3.2" fill="#111"/>
<circle cx="473.54" cy="240.33" r="3.2" fill="#111"/>
<circle cx="496.92" cy="248.20" r="3.2" fill="#111"/>
<rect x="318.60" y="257.98" width="6.0" height="6.0" fill="#111"/>
<text x="400.97" y="299.52" font-size="7.8" font-weight="bold" fill="#111" stroke="#111" stroke-width="0.3">*</text>
<text x="405.87" y="299.52" font-size="7.8" font-weight="bold" fill="#111" stroke="#111" stroke-width="0.3">*</text>
<text x="410.77" y="299.52" font-size="7.8" font-weight="bold" fill="#111" stroke="#111" stroke-width="0.3">*</text>
<text x="415.67" y="299.52" font-size="7.8" font-weight="bold" fill="#111" stroke="#111" stroke-width="0.3">*</text>
<text x="422.62" y="303.82" font-size="7.8" font-weight="bold" fill="#111" stroke="#111" stroke-width="0.3">*</text>
<text x="427.52" y="303.82" font-size="7.8" font-weight="bold" fill="#111" stroke="#111" stroke-width="0.3">*</text>
<text x="432.42" y="303.82" font-size="7.8" font-weight="bold" fill="#111" stroke="#111" stroke-width="0.3">*</text>
<text x="447.07" y="281.72" font-size="7.8" font-weight="bold" fill="#111" stroke="#111" stroke-width="0.3">*</text>
<text x="451.97" y="281.72" font-size="7.8" font-weight="bold" fill="#111" stroke="#111" stroke-width="0.3">*</text>
<text x="0.50" y="438.30" font-size="11.2" text-anchor="start" font-weight="bold" fill="#111" stroke="#111" stroke-width="0.15">D</text>
<line x1="41.80" y1="601.90" x2="198.85" y2="601.90" stroke="#111" stroke-width="1.5" stroke-linecap="butt"/>
<line x1="42.40" y1="605.10" x2="42.40" y2="454.10" stroke="#111" stroke-width="1.5" stroke-linecap="butt"/>
<line x1="38.90" y1="601.90" x2="42.40" y2="601.90" stroke="#111" stroke-width="1.5" stroke-linecap="butt"/>
<text x="38.10" y="604.80" font-size="6.8" text-anchor="end" font-weight="bold" fill="#111" stroke="#111" stroke-width="0.15">0.0</text>
<line x1="38.90" y1="572.46" x2="42.40" y2="572.46" stroke="#111" stroke-width="1.5" stroke-linecap="butt"/>
<text x="38.10" y="575.36" font-size="6.8" text-anchor="end" font-weight="bold" fill="#111" stroke="#111" stroke-width="0.15">1.0</text>
<line x1="38.90" y1="543.02" x2="42.40" y2="543.02" stroke="#111" stroke-width="1.5" stroke-linecap="butt"/>
<text x="38.10" y="545.92" font-size="6.8" text-anchor="end" font-weight="bold" fill="#111" stroke="#111" stroke-width="0.15">2.0</text>
<line x1="38.90" y1="513.58" x2="42.40" y2="513.58" stroke="#111" stroke-width="1.5" stroke-linecap="butt"/>
<text x="38.10" y="516.48" font-size="6.8" text-anchor="end" font-weight="bold" fill="#111" stroke="#111" stroke-width="0.15">3.0</text>
<line x1="38.90" y1="484.14" x2="42.40" y2="484.14" stroke="#111" stroke-width="1.5" stroke-linecap="butt"/>
<text x="38.10" y="487.04" font-size="6.8" text-anchor="end" font-weight="bold" fill="#111" stroke="#111" stroke-width="0.15">4.0</text>
<line x1="38.90" y1="454.70" x2="42.40" y2="454.70" stroke="#111" stroke-width="1.5" stroke-linecap="butt"/>
<text x="38.10" y="457.60" font-size="6.8" text-anchor="end" font-weight="bold" fill="#111" stroke="#111" stroke-width="0.15">5.0</text>
<line x1="42.40" y1="601.90" x2="42.40" y2="605.10" stroke="#111" stroke-width="1.5" stroke-linecap="butt"/>
<text x="42.40" y="612.90" font-size="6.8" text-anchor="middle" font-weight="bold" fill="#111" stroke="#111" stroke-width="0.15">0</text>
<line x1="73.57" y1="601.90" x2="73.57" y2="605.10" stroke="#111" stroke-width="1.5" stroke-linecap="butt"/>
<text x="73.57" y="612.90" font-size="6.8" text-anchor="middle" font-weight="bold" fill="#111" stroke="#111" stroke-width="0.15">10</text>
<line x1="104.74" y1="601.90" x2="104.74" y2="605.10" stroke="#111" stroke-width="1.5" stroke-linecap="butt"/>
<text x="104.74" y="612.90" font-size="6.8" text-anchor="middle" font-weight="bold" fill="#111" stroke="#111" stroke-width="0.15">20</text>
<line x1="135.91" y1="601.90" x2="135.91" y2="605.10" stroke="#111" stroke-width="1.5" stroke-linecap="butt"/>
<text x="135.91" y="612.90" font-size="6.8" text-anchor="middle" font-weight="bold" fill="#111" stroke="#111" stroke-width="0.15">30</text>
<line x1="167.08" y1="601.90" x2="167.08" y2="605.10" stroke="#111" stroke-width="1.5" stroke-linecap="butt"/>
<text x="167.08" y="612.90" font-size="6.8" text-anchor="middle" font-weight="bold" fill="#111" stroke="#111" stroke-width="0.15">40</text>
<line x1="198.25" y1="601.90" x2="198.25" y2="605.10" stroke="#111" stroke-width="1.5" stroke-linecap="butt"/>
<text x="198.25" y="612.90" font-size="6.8" text-anchor="middle" font-weight="bold" fill="#111" stroke="#111" stroke-width="0.15">50</text>
<text x="120.85" y="624.20" font-size="7.93" text-anchor="middle" font-weight="bold" fill="#111" stroke="#111" stroke-width="0.15">Days after transplantation</text>
<text x="11.30" y="528.40" font-size="7.4" text-anchor="middle" font-weight="bold" transform="rotate(-90 11.30 528.40)" fill="#111" stroke="#111" stroke-width="0.15">Total Flux (photon/sec/mouse, x10<tspan dy="-3" font-size="5">7</tspan><tspan dy="3">)</tspan></text>
<line x1="61.10" y1="485.02" x2="61.10" y2="506.81" stroke="#111" stroke-width="1.0" stroke-linecap="butt"/>
<line x1="57.85" y1="485.02" x2="64.35" y2="485.02" stroke="#111" stroke-width="1.0" stroke-linecap="butt"/>
<line x1="57.85" y1="506.81" x2="64.35" y2="506.81" stroke="#111" stroke-width="1.0" stroke-linecap="butt"/>
<line x1="61.10" y1="552.74" x2="61.10" y2="555.68" stroke="#111" stroke-width="1.0" stroke-linecap="butt"/>
<line x1="57.85" y1="552.74" x2="64.35" y2="552.74" stroke="#111" stroke-width="1.0" stroke-linecap="butt"/>
<line x1="57.85" y1="555.68" x2="64.35" y2="555.68" stroke="#111" stroke-width="1.0" stroke-linecap="butt"/>
<line x1="79.80" y1="556.56" x2="79.80" y2="563.63" stroke="#111" stroke-width="1.0" stroke-linecap="butt"/>
<line x1="76.55" y1="556.56" x2="83.05" y2="556.56" stroke="#111" stroke-width="1.0" stroke-linecap="butt"/>
<line x1="76.55" y1="563.63" x2="83.05" y2="563.63" stroke="#111" stroke-width="1.0" stroke-linecap="butt"/>
<line x1="79.80" y1="558.33" x2="79.80" y2="567.75" stroke="#111" stroke-width="1.0" stroke-linecap="butt"/>
<line x1="76.55" y1="558.33" x2="83.05" y2="558.33" stroke="#111" stroke-width="1.0" stroke-linecap="butt"/>
<line x1="76.55" y1="567.75" x2="83.05" y2="567.75" stroke="#111" stroke-width="1.0" stroke-linecap="butt"/>
<line x1="104.74" y1="551.26" x2="104.74" y2="570.69" stroke="#111" stroke-width="1.0" stroke-linecap="butt"/>
<line x1="101.49" y1="551.26" x2="107.99" y2="551.26" stroke="#111" stroke-width="1.0" stroke-linecap="butt"/>
<line x1="101.49" y1="570.69" x2="107.99" y2="570.69" stroke="#111" stroke-width="1.0" stroke-linecap="butt"/>
<line x1="104.74" y1="571.58" x2="104.74" y2="583.35" stroke="#111" stroke-width="1.0" stroke-linecap="butt"/>
<line x1="101.49" y1="571.58" x2="107.99" y2="571.58" stroke="#111" stroke-width="1.0" stroke-linecap="butt"/>
<line x1="101.49" y1="583.35" x2="107.99" y2="583.35" stroke="#111" stroke-width="1.0" stroke-linecap="butt"/>
<line x1="135.91" y1="502.39" x2="135.91" y2="519.47" stroke="#111" stroke-width="1.0" stroke-linecap="butt"/>
<line x1="132.66" y1="502.39" x2="139.16" y2="502.39" stroke="#111" stroke-width="1.0" stroke-linecap="butt"/>
<line x1="132.66" y1="519.47" x2="139.16" y2="519.47" stroke="#111" stroke-width="1.0" stroke-linecap="butt"/>
<line x1="135.91" y1="548.32" x2="135.91" y2="563.04" stroke="#111" stroke-width="1.0" stroke-linecap="butt"/>
<line x1="132.66" y1="548.32" x2="139.16" y2="548.32" stroke="#111" stroke-width="1.0" stroke-linecap="butt"/>
<line x1="132.66" y1="563.04" x2="139.16" y2="563.04" stroke="#111" stroke-width="1.0" stroke-linecap="butt"/>
<line x1="179.55" y1="571.87" x2="179.55" y2="574.82" stroke="#111" stroke-width="1.0" stroke-linecap="butt"/>
<line x1="176.30" y1="571.87" x2="182.80" y2="571.87" stroke="#111" stroke-width="1.0" stroke-linecap="butt"/>
<line x1="176.30" y1="574.82" x2="182.80" y2="574.82" stroke="#111" stroke-width="1.0" stroke-linecap="butt"/>
<line x1="179.55" y1="587.47" x2="179.55" y2="589.24" stroke="#111" stroke-width="1.0" stroke-linecap="butt"/>
<line x1="176.30" y1="587.47" x2="182.80" y2="587.47" stroke="#111" stroke-width="1.0" stroke-linecap="butt"/>
<line x1="176.30" y1="589.24" x2="182.80" y2="589.24" stroke="#111" stroke-width="1.0" stroke-linecap="butt"/>
<polyline points="51.75,599.25 61.10,495.92 79.80,560.10 104.74,560.98 135.91,510.93 179.55,573.34" fill="none" stroke="#111" stroke-width="1.2" stroke-dasharray="1.2 1.3" stroke-linecap="butt" stroke-linejoin="miter"/>
<polyline points="51.75,600.43 61.10,554.21 79.80,563.04 104.74,577.46 135.91,555.68 179.55,588.36" fill="none" stroke="#111" stroke-width="1.4" stroke-dasharray="4.2 2.6" stroke-linecap="butt" stroke-linejoin="miter"/>
<polyline points="42.40,601.90 51.75,600.43 61.10,600.43 79.80,601.02 104.74,601.31 135.91,601.02 179.55,600.43" fill="none" stroke="#111" stroke-width="1.6" stroke-linecap="butt" stroke-linejoin="miter"/>
<rect x="48.95" y="596.45" width="5.6" height="5.6" fill="#111"/>
<rect x="58.30" y="493.12" width="5.6" height="5.6" fill="#111"/>
<rect x="77.00" y="557.30" width="5.6" height="5.6" fill="#111"/>
<rect x="101.94" y="558.18" width="5.6" height="5.6" fill="#111"/>
<rect x="133.11" y="508.13" width="5.6" height="5.6" fill="#111"/>
<rect x="176.75" y="570.54" width="5.6" height="5.6" fill="#111"/>
<rect x="58.35" y="551.46" width="5.50" height="5.50" fill="none" stroke="#111" stroke-width="1.3"/>
<rect x="77.05" y="560.29" width="5.50" height="5.50" fill="none" stroke="#111" stroke-width="1.3"/>
<rect x="101.99" y="574.71" width="5.50" height="5.50" fill="none" stroke="#111" stroke-width="1.3"/>
<rect x="133.16" y="552.93" width="5.50" height="5.50" fill="none" stroke="#111" stroke-width="1.3"/>
<rect x="176.80" y="585.61" width="5.50" height="5.50" fill="none" stroke="#111" stroke-width="1.3"/>
<circle cx="61.10" cy="600.43" r="2.7" fill="#111"/>
<circle cx="79.80" cy="601.02" r="2.7" fill="#111"/>
<circle cx="104.74" cy="601.31" r="2.7" fill="#111"/>
<circle cx="135.91" cy="601.02" r="2.7" fill="#111"/>
<circle cx="179.55" cy="600.43" r="2.7" fill="#111"/>
<text x="53.41" y="482.22" font-size="7.2" font-weight="bold" fill="#111" stroke="#111" stroke-width="0.3">*</text>
<text x="57.36" y="482.22" font-size="7.2" font-weight="bold" fill="#111" stroke="#111" stroke-width="0.3">*</text>
<text x="61.31" y="482.22" font-size="7.2" font-weight="bold" fill="#111" stroke="#111" stroke-width="0.3">*</text>
<text x="65.26" y="482.22" font-size="7.2" font-weight="bold" fill="#111" stroke="#111" stroke-width="0.3">*</text>
<text x="128.71" y="499.02" font-size="7.2" font-weight="bold" fill="#111" stroke="#111" stroke-width="0.3">*</text>
<text x="132.66" y="499.02" font-size="7.2" font-weight="bold" fill="#111" stroke="#111" stroke-width="0.3">*</text>
<text x="136.61" y="499.02" font-size="7.2" font-weight="bold" fill="#111" stroke="#111" stroke-width="0.3">*</text>
<text x="140.56" y="499.02" font-size="7.2" font-weight="bold" fill="#111" stroke="#111" stroke-width="0.3">*</text>
<line x1="184.10" y1="462.20" x2="196.30" y2="462.20" stroke="#111" stroke-width="1.3" stroke-linecap="butt"/>
<circle cx="190.30" cy="462.20" r="2.4" fill="#111"/>
<circle cx="185.40" cy="472.80" r="0.7" fill="#111"/>
<rect x="188.7" y="470.4" width="6.2" height="4.8" fill="#111"/>
<line x1="184.90" y1="483.90" x2="197.60" y2="483.90" stroke="#111" stroke-width="1.3" stroke-linecap="butt"/>
<rect x="188.75" y="481.35" width="5.5" height="5.2" fill="none" stroke="#111" stroke-width="1.3"/>
<text x="201.80" y="465.60" font-size="7.94" text-anchor="start" fill="#111" stroke="#111" stroke-width="0.22">BM control (n=5)</text>
<text x="202.40" y="476.00" font-size="7.94" text-anchor="start" fill="#111" stroke="#111" stroke-width="0.22">Isotype (n=10)</text>
<text x="202.60" y="486.90" font-size="7.94" text-anchor="start" fill="#111" stroke="#111" stroke-width="0.22" textLength="40.8">&#945;DR3 (n=10)</text>
<text x="279.40" y="438.10" font-size="11.2" text-anchor="start" font-weight="bold" fill="#111" stroke="#111" stroke-width="0.15">E</text>
<text x="362.00" y="472.00" font-size="10.1" text-anchor="middle" fill="#111" stroke="#111" stroke-width="0.22">D6</text>
<text x="467.00" y="472.60" font-size="10.1" text-anchor="middle" fill="#111" stroke="#111" stroke-width="0.22">D30</text>
<text x="302.40" y="500.40" font-size="8.35" text-anchor="middle" transform="rotate(-90 302.40 500.40)" fill="#111" stroke="#111" stroke-width="0.22">Isotype T cells</text>
<text x="302.40" y="560.00" font-size="8.35" text-anchor="middle" transform="rotate(-90 302.40 560.00)" fill="#111" stroke="#111" stroke-width="0.22">&#945;DR3 T cells</text>
<defs><filter id="b1" x="-30%" y="-30%" width="160%" height="160%"><feGaussianBlur stdDeviation="0.9"/></filter><filter id="b2" x="-30%" y="-30%" width="160%" height="160%"><feGaussianBlur stdDeviation="1.6"/></filter><filter id="b3" x="-50%" y="-50%" width="200%" height="200%"><feGaussianBlur stdDeviation="0.8"/></filter><linearGradient id="cbar" x1="0" x2="1" y1="0" y2="0"><stop offset="0" stop-color="#3a2fc8"/><stop offset="0.18" stop-color="#2a4ee8"/><stop offset="0.33" stop-color="#58c8f0"/><stop offset="0.5" stop-color="#5ad25a"/><stop offset="0.66" stop-color="#b8de30"/><stop offset="0.78" stop-color="#f0cc10"/><stop offset="0.9" stop-color="#e06a20"/><stop offset="1" stop-color="#c03a28"/></linearGradient><linearGradient id="streak" x1="0" x2="1" y1="0" y2="0"><stop offset="0" stop-color="#777" stop-opacity="0"/><stop offset="0.5" stop-color="#888" stop-opacity="1"/><stop offset="1" stop-color="#777" stop-opacity="0"/></linearGradient><clipPath id="c1"><rect x="308.4" y="475" width="103.6" height="48.6"/></clipPath><clipPath id="c2"><rect x="415" y="475" width="103.2" height="48.6"/></clipPath><clipPath id="c3"><rect x="308.4" y="538" width="104" height="48.6"/></clipPath><clipPath id="c4"><rect x="415" y="537.6" width="103" height="48.4"/></clipPath></defs>
<g clip-path="url(#c1)">
<rect x="308.4" y="475" width="103.6" height="48.6" fill="#2a2030"/>
<path d="M318.80,475.60 C321.40,475.60 322.40,482.60 323.40,487.60 C325.60,492.60 329.60,501.60 329.60,509.60 C329.60,516.60 323.80,522.60 318.80,523.60 C313.80,522.60 308.00,516.60 308.00,509.60 C308.00,501.60 312.00,492.60 314.20,487.60 C315.20,482.60 316.20,475.60 318.80,475.60Z" fill="#6232d2" filter="url(#b2)" opacity="0.9"/>
<path d="M339.00,475.60 C341.60,475.60 342.60,482.60 343.60,487.60 C345.80,492.60 349.80,501.60 349.80,509.60 C349.80,516.60 344.00,522.60 339.00,523.60 C334.00,522.60 328.20,516.60 328.20,509.60 C328.20,501.60 332.20,492.60 334.40,487.60 C335.40,482.60 336.40,475.60 339.00,475.60Z" fill="#6232d2" filter="url(#b2)" opacity="0.9"/>
<path d="M360.40,475.60 C363.00,475.60 364.00,482.60 365.00,487.60 C367.20,492.60 371.20,501.60 371.20,509.60 C371.20,516.60 365.40,522.60 360.40,523.60 C355.40,522.60 349.60,516.60 349.60,509.60 C349.60,501.60 353.60,492.60 355.80,487.60 C356.80,482.60 357.80,475.60 360.40,475.60Z" fill="#6232d2" filter="url(#b2)" opacity="0.9"/>
<path d="M380.80,475.60 C383.40,475.60 384.40,482.60 385.40,487.60 C387.60,492.60 391.60,501.60 391.60,509.60 C391.60,516.60 385.80,522.60 380.80,523.60 C375.80,522.60 370.00,516.60 370.00,509.60 C370.00,501.60 374.00,492.60 376.20,487.60 C377.20,482.60 378.20,475.60 380.80,475.60Z" fill="#6232d2" filter="url(#b2)" opacity="0.9"/>
<path d="M400.60,475.60 C403.20,475.60 404.20,482.60 405.20,487.60 C407.40,492.60 411.40,501.60 411.40,509.60 C411.40,516.60 405.60,522.60 400.60,523.60 C395.60,522.60 389.80,516.60 389.80,509.60 C389.80,501.60 393.80,492.60 396.00,487.60 C397.00,482.60 398.00,475.60 400.60,475.60Z" fill="#6232d2" filter="url(#b2)" opacity="0.9"/>
<rect x="327.4" y="475" width="3.2" height="48.6" fill="#5a4048" opacity="0.7" filter="url(#b1)"/>
<rect x="348.2" y="475" width="3.2" height="48.6" fill="#5a4048" opacity="0.7" filter="url(#b1)"/>
<rect x="369.0" y="475" width="3.2" height="48.6" fill="#5a4048" opacity="0.7" filter="url(#b1)"/>
<rect x="389.2" y="475" width="3.2" height="48.6" fill="#5a4048" opacity="0.7" filter="url(#b1)"/>
<path d="M318.80,475.80 C321.40,475.80 322.40,482.73 323.40,487.68 C325.60,492.62 328.40,501.53 328.40,509.45 C328.40,516.37 323.80,522.31 318.80,523.30 C313.80,522.31 309.20,516.37 309.20,509.45 C309.20,501.53 312.00,492.62 314.20,487.68 C315.20,482.73 316.20,475.80 318.80,475.80Z" fill="#2632f4" filter="url(#b1)"/>
<ellipse cx="311.30" cy="490.50" rx="2.40" ry="1.60" fill="#2632f4" filter="url(#b3)"/>
<ellipse cx="326.30" cy="490.50" rx="2.40" ry="1.60" fill="#2632f4" filter="url(#b3)"/>
<path d="M339.00,475.80 C341.60,475.80 342.60,482.73 343.60,487.68 C345.80,492.62 348.60,501.53 348.60,509.45 C348.60,516.37 344.00,522.31 339.00,523.30 C334.00,522.31 329.40,516.37 329.40,509.45 C329.40,501.53 332.20,492.62 334.40,487.68 C335.40,482.73 336.40,475.80 339.00,475.80Z" fill="#2632f4" filter="url(#b1)"/>
<ellipse cx="331.50" cy="490.50" rx="2.40" ry="1.60" fill="#2632f4" filter="url(#b3)"/>
<ellipse cx="346.50" cy="490.50" rx="2.40" ry="1.60" fill="#2632f4" filter="url(#b3)"/>
<path d="M360.40,475.80 C363.00,475.80 364.00,482.73 365.00,487.68 C367.20,492.62 370.00,501.53 370.00,509.45 C370.00,516.37 365.40,522.31 360.40,523.30 C355.40,522.31 350.80,516.37 350.80,509.45 C350.80,501.53 353.60,492.62 355.80,487.68 C356.80,482.73 357.80,475.80 360.40,475.80Z" fill="#2632f4" filter="url(#b1)"/>
<ellipse cx="352.90" cy="490.50" rx="2.40" ry="1.60" fill="#2632f4" filter="url(#b3)"/>
<ellipse cx="367.90" cy="490.50" rx="2.40" ry="1.60" fill="#2632f4" filter="url(#b3)"/>
<path d="M380.80,475.80 C383.40,475.80 384.40,482.73 385.40,487.68 C387.60,492.62 390.40,501.53 390.40,509.45 C390.40,516.37 385.80,522.31 380.80,523.30 C375.80,522.31 371.20,516.37 371.20,509.45 C371.20,501.53 374.00,492.62 376.20,487.68 C377.20,482.73 378.20,475.80 380.80,475.80Z" fill="#2632f4" filter="url(#b1)"/>
<ellipse cx="373.30" cy="490.50" rx="2.40" ry="1.60" fill="#2632f4" filter="url(#b3)"/>
<ellipse cx="388.30" cy="490.50" rx="2.40" ry="1.60" fill="#2632f4" filter="url(#b3)"/>
<path d="M400.60,475.80 C403.20,475.80 404.20,482.73 405.20,487.68 C407.40,492.62 410.20,501.53 410.20,509.45 C410.20,516.37 405.60,522.31 400.60,523.30 C395.60,522.31 391.00,516.37 391.00,509.45 C391.00,501.53 393.80,492.62 396.00,487.68 C397.00,482.73 398.00,475.80 400.60,475.80Z" fill="#2632f4" filter="url(#b1)"/>
<ellipse cx="393.10" cy="490.50" rx="2.40" ry="1.60" fill="#2632f4" filter="url(#b3)"/>
<ellipse cx="408.10" cy="490.50" rx="2.40" ry="1.60" fill="#2632f4" filter="url(#b3)"/>
<ellipse cx="318.90" cy="481.20" rx="3.40" ry="4.40" fill="#60b8ff" filter="url(#b3)"/>
<ellipse cx="318.90" cy="481.00" rx="2.60" ry="2.90" fill="#f4e418" filter="url(#b3)"/>
<ellipse cx="318.90" cy="480.80" rx="1.90" ry="2.00" fill="#e02a14" filter="url(#b3)"/>
<ellipse cx="339.00" cy="481.00" rx="3.40" ry="4.40" fill="#48d8f0" filter="url(#b3)"/>
<ellipse cx="339.00" cy="480.80" rx="2.40" ry="2.80" fill="#c0ec28" filter="url(#b3)"/>
<ellipse cx="339.00" cy="480.40" rx="1.20" ry="1.20" fill="#e8c020" filter="url(#b3)"/>
<ellipse cx="360.40" cy="481.00" rx="2.60" ry="3.60" fill="#48d8f0" filter="url(#b3)"/>
<ellipse cx="360.40" cy="481.00" rx="1.40" ry="1.80" fill="#b0f0f0" filter="url(#b3)"/>
<ellipse cx="380.80" cy="481.00" rx="3.20" ry="4.20" fill="#48d8f0" filter="url(#b3)"/>
<ellipse cx="380.80" cy="481.00" rx="2.00" ry="2.60" fill="#c0ec28" filter="url(#b3)"/>
<ellipse cx="400.60" cy="481.00" rx="3.00" ry="4.00" fill="#48d8f0" filter="url(#b3)"/>
<ellipse cx="400.60" cy="481.00" rx="1.80" ry="2.40" fill="#70e860" filter="url(#b3)"/>
<ellipse cx="318.90" cy="488.00" rx="4.20" ry="3.60" fill="#48d8f0" filter="url(#b1)"/>
<ellipse cx="318.90" cy="488.00" rx="2.10" ry="1.80" fill="#70e860" filter="url(#b1)"/>
<ellipse cx="311.70" cy="490.80" rx="1.50" ry="1.30" fill="#48d8f0" filter="url(#b3)"/>
<ellipse cx="326.10" cy="490.80" rx="1.50" ry="1.30" fill="#48d8f0" filter="url(#b3)"/>
<ellipse cx="339.00" cy="488.00" rx="4.20" ry="3.60" fill="#48d8f0" filter="url(#b1)"/>
<ellipse cx="339.00" cy="488.00" rx="2.10" ry="1.80" fill="#70e860" filter="url(#b1)"/>
<ellipse cx="331.80" cy="490.80" rx="1.50" ry="1.30" fill="#48d8f0" filter="url(#b3)"/>
<ellipse cx="346.20" cy="490.80" rx="1.50" ry="1.30" fill="#48d8f0" filter="url(#b3)"/>
<ellipse cx="360.40" cy="488.00" rx="2.52" ry="2.16" fill="#48d8f0" filter="url(#b1)"/>
<ellipse cx="360.40" cy="488.00" rx="1.26" ry="1.08" fill="#48d8f0" filter="url(#b1)"/>
<ellipse cx="353.20" cy="490.80" rx="1.50" ry="1.30" fill="#48d8f0" filter="url(#b3)"/>
<ellipse cx="367.60" cy="490.80" rx="1.50" ry="1.30" fill="#48d8f0" filter="url(#b3)"/>
<ellipse cx="380.80" cy="488.00" rx="3.78" ry="3.24" fill="#48d8f0" filter="url(#b1)"/>
<ellipse cx="380.80" cy="488.00" rx="1.89" ry="1.62" fill="#70e860" filter="url(#b1)"/>
<ellipse cx="373.60" cy="490.80" rx="1.50" ry="1.30" fill="#48d8f0" filter="url(#b3)"/>
<ellipse cx="388.00" cy="490.80" rx="1.50" ry="1.30" fill="#48d8f0" filter="url(#b3)"/>
<ellipse cx="400.60" cy="488.00" rx="3.78" ry="3.24" fill="#48d8f0" filter="url(#b1)"/>
<ellipse cx="400.60" cy="488.00" rx="1.89" ry="1.62" fill="#70e860" filter="url(#b1)"/>
<ellipse cx="393.40" cy="490.80" rx="1.50" ry="1.30" fill="#48d8f0" filter="url(#b3)"/>
<ellipse cx="407.80" cy="490.80" rx="1.50" ry="1.30" fill="#48d8f0" filter="url(#b3)"/>
<ellipse cx="317.60" cy="508.00" rx="7.20" ry="9.60" fill="#48d8f0" filter="url(#b1)"/>
<ellipse cx="317.60" cy="508.00" rx="5.40" ry="7.20" fill="#70e860" filter="url(#b1)"/>
<ellipse cx="317.60" cy="508.00" rx="3.60" ry="4.80" fill="#c0ec28" filter="url(#b1)"/>
<ellipse cx="317.60" cy="508.00" rx="1.80" ry="2.40" fill="#d8ec20" filter="url(#b1)"/>
<ellipse cx="338.90" cy="508.00" rx="7.00" ry="9.20" fill="#48d8f0" filter="url(#b1)"/>
<ellipse cx="338.90" cy="508.00" rx="5.25" ry="6.90" fill="#70e860" filter="url(#b1)"/>
<ellipse cx="338.90" cy="508.00" rx="3.50" ry="4.60" fill="#c0ec28" filter="url(#b1)"/>
<ellipse cx="338.90" cy="508.00" rx="1.75" ry="2.30" fill="#d0ec20" filter="url(#b1)"/>
<ellipse cx="360.40" cy="509.00" rx="5.00" ry="7.60" fill="#3aa0f0" filter="url(#b1)"/>
<ellipse cx="360.40" cy="509.00" rx="3.33" ry="5.07" fill="#48d8f0" filter="url(#b1)"/>
<ellipse cx="360.40" cy="509.00" rx="1.67" ry="2.53" fill="#a0f0e0" filter="url(#b1)"/>
<ellipse cx="380.80" cy="508.00" rx="7.00" ry="9.20" fill="#48d8f0" filter="url(#b1)"/>
<ellipse cx="380.80" cy="508.00" rx="4.67" ry="6.13" fill="#70e860" filter="url(#b1)"/>
<ellipse cx="380.80" cy="508.00" rx="2.33" ry="3.07" fill="#c0ec28" filter="url(#b1)"/>
<ellipse cx="400.60" cy="508.00" rx="6.60" ry="9.00" fill="#48d8f0" filter="url(#b1)"/>
<ellipse cx="400.60" cy="508.00" rx="4.40" ry="6.00" fill="#70e860" filter="url(#b1)"/>
<ellipse cx="400.60" cy="508.00" rx="2.20" ry="3.00" fill="#c0ec28" filter="url(#b1)"/>
<ellipse cx="314.80" cy="520.50" rx="1.30" ry="1.60" fill="#48d8f0" filter="url(#b3)"/>
<ellipse cx="322.80" cy="520.50" rx="1.30" ry="1.60" fill="#48d8f0" filter="url(#b3)"/>
<ellipse cx="335.00" cy="520.50" rx="1.30" ry="1.60" fill="#48d8f0" filter="url(#b3)"/>
<ellipse cx="343.00" cy="520.50" rx="1.30" ry="1.60" fill="#48d8f0" filter="url(#b3)"/>
<ellipse cx="356.40" cy="520.50" rx="1.30" ry="1.60" fill="#48d8f0" filter="url(#b3)"/>
<ellipse cx="364.40" cy="520.50" rx="1.30" ry="1.60" fill="#48d8f0" filter="url(#b3)"/>
<ellipse cx="376.80" cy="520.50" rx="1.30" ry="1.60" fill="#48d8f0" filter="url(#b3)"/>
<ellipse cx="384.80" cy="520.50" rx="1.30" ry="1.60" fill="#48d8f0" filter="url(#b3)"/>
<ellipse cx="396.60" cy="520.50" rx="1.30" ry="1.60" fill="#48d8f0" filter="url(#b3)"/>
<ellipse cx="404.60" cy="520.50" rx="1.30" ry="1.60" fill="#48d8f0" filter="url(#b3)"/>
</g>
<g clip-path="url(#c2)">
<rect x="415" y="475" width="103.2" height="48.6" fill="#363434"/>
<rect x="424.5" y="474" width="7" height="14" fill="#a0a0a0" opacity="0.75" filter="url(#b2)"/>
<rect x="425" y="486" width="6" height="38" fill="#4a4848" opacity="0.7" filter="url(#b2)"/>
<path d="M447.30,475.40 C449.90,475.40 450.90,482.40 451.90,487.40 C454.10,492.40 458.80,501.40 458.80,509.40 C458.80,516.40 452.30,522.40 447.30,523.40 C442.30,522.40 435.80,516.40 435.80,509.40 C435.80,501.40 440.50,492.40 442.70,487.40 C443.70,482.40 444.70,475.40 447.30,475.40Z" fill="#6232d2" filter="url(#b2)" opacity="0.9"/>
<path d="M467.00,475.40 C469.60,475.40 470.60,482.40 471.60,487.40 C473.80,492.40 478.50,501.40 478.50,509.40 C478.50,516.40 472.00,522.40 467.00,523.40 C462.00,522.40 455.50,516.40 455.50,509.40 C455.50,501.40 460.20,492.40 462.40,487.40 C463.40,482.40 464.40,475.40 467.00,475.40Z" fill="#6232d2" filter="url(#b2)" opacity="0.9"/>
<path d="M487.70,475.40 C490.30,475.40 491.30,482.40 492.30,487.40 C494.50,492.40 499.20,501.40 499.20,509.40 C499.20,516.40 492.70,522.40 487.70,523.40 C482.70,522.40 476.20,516.40 476.20,509.40 C476.20,501.40 480.90,492.40 483.10,487.40 C484.10,482.40 485.10,475.40 487.70,475.40Z" fill="#6232d2" filter="url(#b2)" opacity="0.9"/>
<path d="M507.30,475.40 C509.90,475.40 510.90,482.40 511.90,487.40 C514.10,492.40 518.80,501.40 518.80,509.40 C518.80,516.40 512.30,522.40 507.30,523.40 C502.30,522.40 495.80,516.40 495.80,509.40 C495.80,501.40 500.50,492.40 502.70,487.40 C503.70,482.40 504.70,475.40 507.30,475.40Z" fill="#6232d2" filter="url(#b2)" opacity="0.9"/>
<path d="M447.30,475.80 C449.90,475.80 450.90,482.73 451.90,487.68 C454.10,492.62 456.30,501.53 456.30,509.45 C456.30,516.37 452.30,522.31 447.30,523.30 C442.30,522.31 438.30,516.37 438.30,509.45 C438.30,501.53 440.50,492.62 442.70,487.68 C443.70,482.73 444.70,475.80 447.30,475.80Z" fill="#2632f4" filter="url(#b1)"/>
<path d="M467.00,475.80 C469.60,475.80 470.60,482.73 471.60,487.68 C473.80,492.62 476.00,501.53 476.00,509.45 C476.00,516.37 472.00,522.31 467.00,523.30 C462.00,522.31 458.00,516.37 458.00,509.45 C458.00,501.53 460.20,492.62 462.40,487.68 C463.40,482.73 464.40,475.80 467.00,475.80Z" fill="#2632f4" filter="url(#b1)"/>
<path d="M487.70,475.80 C490.30,475.80 491.30,482.73 492.30,487.68 C494.50,492.62 496.70,501.53 496.70,509.45 C496.70,516.37 492.70,522.31 487.70,523.30 C482.70,522.31 478.70,516.37 478.70,509.45 C478.70,501.53 480.90,492.62 483.10,487.68 C484.10,482.73 485.10,475.80 487.70,475.80Z" fill="#2632f4" filter="url(#b1)"/>
<path d="M507.30,475.80 C509.90,475.80 510.90,482.73 511.90,487.68 C514.10,492.62 516.30,501.53 516.30,509.45 C516.30,516.37 512.30,522.31 507.30,523.30 C502.30,522.31 498.30,516.37 498.30,509.45 C498.30,501.53 500.50,492.62 502.70,487.68 C503.70,482.73 504.70,475.80 507.30,475.80Z" fill="#2632f4" filter="url(#b1)"/>
<ellipse cx="457.2" cy="503" rx="1.8" ry="11" fill="#a89898" opacity="0.8" filter="url(#b1)"/>
<ellipse cx="477.4" cy="503" rx="1.8" ry="11" fill="#a89898" opacity="0.8" filter="url(#b1)"/>
<ellipse cx="497.6" cy="503" rx="1.5" ry="9" fill="#705060" opacity="0.6" filter="url(#b1)"/>
<ellipse cx="439.50" cy="489.50" rx="2.40" ry="1.80" fill="#2632f4" filter="url(#b3)"/>
<ellipse cx="455.10" cy="489.50" rx="2.40" ry="1.80" fill="#2632f4" filter="url(#b3)"/>
<ellipse cx="441.80" cy="488.50" rx="1.40" ry="1.80" fill="#48d8f0" filter="url(#b3)"/>
<ellipse cx="452.80" cy="488.50" rx="1.40" ry="1.80" fill="#48d8f0" filter="url(#b3)"/>
<ellipse cx="447.30" cy="478.50" rx="1.00" ry="2.20" fill="#60c8ff" opacity="0.9" filter="url(#b3)"/>
<ellipse cx="445.80" cy="491.50" rx="1.20" ry="1.20" fill="#48d8f0" opacity="0.9" filter="url(#b3)"/>
<ellipse cx="459.20" cy="489.50" rx="2.40" ry="1.80" fill="#2632f4" filter="url(#b3)"/>
<ellipse cx="474.80" cy="489.50" rx="2.40" ry="1.80" fill="#2632f4" filter="url(#b3)"/>
<ellipse cx="461.50" cy="488.50" rx="1.40" ry="1.80" fill="#48d8f0" filter="url(#b3)"/>
<ellipse cx="472.50" cy="488.50" rx="1.40" ry="1.80" fill="#48d8f0" filter="url(#b3)"/>
<ellipse cx="467.00" cy="478.50" rx="1.00" ry="2.20" fill="#60c8ff" opacity="0.9" filter="url(#b3)"/>
<ellipse cx="465.50" cy="491.50" rx="1.20" ry="1.20" fill="#48d8f0" opacity="0.9" filter="url(#b3)"/>
<ellipse cx="479.90" cy="489.50" rx="2.40" ry="1.80" fill="#2632f4" filter="url(#b3)"/>
<ellipse cx="495.50" cy="489.50" rx="2.40" ry="1.80" fill="#2632f4" filter="url(#b3)"/>
<ellipse cx="482.20" cy="488.50" rx="1.40" ry="1.80" fill="#48d8f0" filter="url(#b3)"/>
<ellipse cx="493.20" cy="488.50" rx="1.40" ry="1.80" fill="#48d8f0" filter="url(#b3)"/>
<ellipse cx="487.70" cy="478.50" rx="1.00" ry="2.20" fill="#60c8ff" opacity="0.9" filter="url(#b3)"/>
<ellipse cx="486.20" cy="491.50" rx="1.20" ry="1.20" fill="#48d8f0" opacity="0.9" filter="url(#b3)"/>
<ellipse cx="499.50" cy="489.50" rx="2.40" ry="1.80" fill="#2632f4" filter="url(#b3)"/>
<ellipse cx="515.10" cy="489.50" rx="2.40" ry="1.80" fill="#2632f4" filter="url(#b3)"/>
<ellipse cx="501.80" cy="488.50" rx="1.40" ry="1.80" fill="#48d8f0" filter="url(#b3)"/>
<ellipse cx="512.80" cy="488.50" rx="1.40" ry="1.80" fill="#48d8f0" filter="url(#b3)"/>
<ellipse cx="507.30" cy="478.50" rx="1.00" ry="2.20" fill="#60c8ff" opacity="0.9" filter="url(#b3)"/>
<ellipse cx="505.80" cy="491.50" rx="1.20" ry="1.20" fill="#48d8f0" opacity="0.9" filter="url(#b3)"/>
<ellipse cx="447.30" cy="506.00" rx="6.00" ry="7.60" fill="#48d8f0" filter="url(#b1)"/>
<ellipse cx="447.30" cy="506.00" rx="4.00" ry="5.07" fill="#70e860" filter="url(#b1)"/>
<ellipse cx="447.30" cy="506.00" rx="2.00" ry="2.53" fill="#a0ec30" filter="url(#b1)"/>
<ellipse cx="467.00" cy="507.50" rx="3.40" ry="3.80" fill="#3a90f0" filter="url(#b1)"/>
<ellipse cx="467.00" cy="507.50" rx="1.70" ry="1.90" fill="#48d8f0" filter="url(#b1)"/>
<ellipse cx="487.70" cy="508.00" rx="6.00" ry="7.80" fill="#48d8f0" filter="url(#b1)"/>
<ellipse cx="487.70" cy="508.00" rx="4.00" ry="5.20" fill="#70e860" filter="url(#b1)"/>
<ellipse cx="487.70" cy="508.00" rx="2.00" ry="2.60" fill="#c0ec28" filter="url(#b1)"/>
<ellipse cx="507.30" cy="508.00" rx="5.60" ry="9.60" fill="#48d8f0" filter="url(#b1)"/>
<ellipse cx="507.30" cy="508.00" rx="4.48" ry="7.68" fill="#70e860" filter="url(#b1)"/>
<ellipse cx="507.30" cy="508.00" rx="3.36" ry="5.76" fill="#f4e418" filter="url(#b1)"/>
<ellipse cx="507.30" cy="508.00" rx="2.24" ry="3.84" fill="#f08018" filter="url(#b1)"/>
<ellipse cx="507.30" cy="508.00" rx="1.12" ry="1.92" fill="#e02a14" filter="url(#b1)"/>
<ellipse cx="442.30" cy="516.50" rx="2.20" ry="1.50" fill="#60e0c0" filter="url(#b3)"/>
<ellipse cx="452.30" cy="516.50" rx="2.20" ry="1.50" fill="#60e0c0" filter="url(#b3)"/>
<ellipse cx="482.70" cy="516.50" rx="2.20" ry="1.50" fill="#60e0c0" filter="url(#b3)"/>
<ellipse cx="492.70" cy="516.50" rx="2.20" ry="1.50" fill="#60e0c0" filter="url(#b3)"/>
<ellipse cx="502.30" cy="516.50" rx="2.20" ry="1.50" fill="#60e0c0" filter="url(#b3)"/>
<ellipse cx="512.30" cy="516.50" rx="2.20" ry="1.50" fill="#60e0c0" filter="url(#b3)"/>
</g>
<g clip-path="url(#c3)">
<rect x="308.4" y="538" width="104" height="48.6" fill="#2c2c28"/>
<rect x="326.8" y="538" width="4.4" height="48.6" fill="#6a6a60" opacity="0.6" filter="url(#b2)"/>
<rect x="347.6" y="538" width="4.4" height="48.6" fill="#6a6a60" opacity="0.6" filter="url(#b2)"/>
<rect x="368.40000000000003" y="538" width="4.4" height="48.6" fill="#6a6a60" opacity="0.6" filter="url(#b2)"/>
<rect x="388.8" y="538" width="4.4" height="48.6" fill="#6a6a60" opacity="0.6" filter="url(#b2)"/>
<path d="M318.40,538.60 C321.00,538.60 322.00,545.60 323.00,550.60 C325.20,555.60 327.80,564.60 327.80,572.60 C327.80,579.60 323.40,585.60 318.40,586.60 C313.40,585.60 309.00,579.60 309.00,572.60 C309.00,564.60 311.60,555.60 313.80,550.60 C314.80,545.60 315.80,538.60 318.40,538.60Z" fill="#d4d4cc" filter="url(#b1)"/>
<path d="M339.20,538.60 C341.80,538.60 342.80,545.60 343.80,550.60 C346.00,555.60 348.60,564.60 348.60,572.60 C348.60,579.60 344.20,585.60 339.20,586.60 C334.20,585.60 329.80,579.60 329.80,572.60 C329.80,564.60 332.40,555.60 334.60,550.60 C335.60,545.60 336.60,538.60 339.20,538.60Z" fill="#d4d4cc" filter="url(#b1)"/>
<path d="M360.20,538.60 C362.80,538.60 363.80,545.60 364.80,550.60 C367.00,555.60 369.60,564.60 369.60,572.60 C369.60,579.60 365.20,585.60 360.20,586.60 C355.20,585.60 350.80,579.60 350.80,572.60 C350.80,564.60 353.40,555.60 355.60,550.60 C356.60,545.60 357.60,538.60 360.20,538.60Z" fill="#d4d4cc" filter="url(#b1)"/>
<path d="M380.80,538.60 C383.40,538.60 384.40,545.60 385.40,550.60 C387.60,555.60 390.20,564.60 390.20,572.60 C390.20,579.60 385.80,585.60 380.80,586.60 C375.80,585.60 371.40,579.60 371.40,572.60 C371.40,564.60 374.00,555.60 376.20,550.60 C377.20,545.60 378.20,538.60 380.80,538.60Z" fill="#d4d4cc" filter="url(#b1)"/>
<path d="M401.20,538.60 C403.80,538.60 404.80,545.60 405.80,550.60 C408.00,555.60 410.60,564.60 410.60,572.60 C410.60,579.60 406.20,585.60 401.20,586.60 C396.20,585.60 391.80,579.60 391.80,572.60 C391.80,564.60 394.40,555.60 396.60,550.60 C397.60,545.60 398.60,538.60 401.20,538.60Z" fill="#d4d4cc" filter="url(#b1)"/>
<ellipse cx="318.80" cy="541.00" rx="2.40" ry="3.20" fill="#2c2ce6" filter="url(#b3)"/>
<ellipse cx="319.50" cy="549.50" rx="2.60" ry="2.00" fill="#2c2ce6" filter="url(#b3)"/>
<ellipse cx="316.50" cy="553.50" rx="1.60" ry="1.40" fill="#2c2ce6" filter="url(#b3)"/>
<ellipse cx="319.00" cy="569.00" rx="6.40" ry="8.00" fill="#2c2ce6" filter="url(#b3)"/>
<ellipse cx="316.50" cy="579.00" rx="3.00" ry="3.20" fill="#2c2ce6" filter="url(#b3)"/>
<ellipse cx="315.50" cy="584.50" rx="1.60" ry="1.60" fill="#2c2ce6" filter="url(#b3)"/>
<ellipse cx="321.50" cy="566.50" rx="2.00" ry="1.50" fill="#80d8ff" filter="url(#b3)"/>
<ellipse cx="339.20" cy="543.00" rx="2.60" ry="4.80" fill="#2c2ce6" filter="url(#b3)"/>
<ellipse cx="339.20" cy="550.50" rx="3.60" ry="2.40" fill="#2c2ce6" filter="url(#b3)"/>
<ellipse cx="333.00" cy="552.50" rx="1.60" ry="1.40" fill="#2c2ce6" filter="url(#b3)"/>
<ellipse cx="345.40" cy="552.50" rx="1.60" ry="1.40" fill="#2c2ce6" filter="url(#b3)"/>
<path d="M339.20,556.00 C343.20,554.00 346.00,557.00 346.00,565.00 C346.00,576.00 344.70,586.00 339.20,587.00 C333.70,586.00 332.40,576.00 332.40,565.00 C332.40,557.00 335.20,554.00 339.20,556.00Z" fill="#2c2ce6" filter="url(#b3)"/>
<ellipse cx="333.20" cy="583.50" rx="1.40" ry="1.80" fill="#2c2ce6" filter="url(#b3)"/>
<ellipse cx="345.20" cy="583.50" rx="1.40" ry="1.80" fill="#2c2ce6" filter="url(#b3)"/>
<ellipse cx="360.20" cy="543.00" rx="2.60" ry="4.80" fill="#2c2ce6" filter="url(#b3)"/>
<ellipse cx="360.20" cy="550.50" rx="3.60" ry="2.40" fill="#2c2ce6" filter="url(#b3)"/>
<ellipse cx="354.00" cy="552.50" rx="1.60" ry="1.40" fill="#2c2ce6" filter="url(#b3)"/>
<ellipse cx="366.40" cy="552.50" rx="1.60" ry="1.40" fill="#2c2ce6" filter="url(#b3)"/>
<path d="M360.20,556.00 C364.20,554.00 367.00,557.00 367.00,565.00 C367.00,576.00 365.70,586.00 360.20,587.00 C354.70,586.00 353.40,576.00 353.40,565.00 C353.40,557.00 356.20,554.00 360.20,556.00Z" fill="#2c2ce6" filter="url(#b3)"/>
<ellipse cx="354.20" cy="583.50" rx="1.40" ry="1.80" fill="#2c2ce6" filter="url(#b3)"/>
<ellipse cx="366.20" cy="583.50" rx="1.40" ry="1.80" fill="#2c2ce6" filter="url(#b3)"/>
<ellipse cx="380.80" cy="543.00" rx="2.60" ry="4.80" fill="#2c2ce6" filter="url(#b3)"/>
<ellipse cx="380.80" cy="550.50" rx="3.60" ry="2.40" fill="#2c2ce6" filter="url(#b3)"/>
<ellipse cx="374.60" cy="552.50" rx="1.60" ry="1.40" fill="#2c2ce6" filter="url(#b3)"/>
<ellipse cx="387.00" cy="552.50" rx="1.60" ry="1.40" fill="#2c2ce6" filter="url(#b3)"/>
<path d="M380.80,556.00 C384.80,554.00 387.60,557.00 387.60,565.00 C387.60,576.00 386.30,586.00 380.80,587.00 C375.30,586.00 374.00,576.00 374.00,565.00 C374.00,557.00 376.80,554.00 380.80,556.00Z" fill="#2c2ce6" filter="url(#b3)"/>
<ellipse cx="374.80" cy="583.50" rx="1.40" ry="1.80" fill="#2c2ce6" filter="url(#b3)"/>
<ellipse cx="386.80" cy="583.50" rx="1.40" ry="1.80" fill="#2c2ce6" filter="url(#b3)"/>
<ellipse cx="401.20" cy="543.00" rx="2.60" ry="4.80" fill="#2c2ce6" filter="url(#b3)"/>
<ellipse cx="401.20" cy="550.50" rx="3.60" ry="2.40" fill="#2c2ce6" filter="url(#b3)"/>
<ellipse cx="395.00" cy="552.50" rx="1.60" ry="1.40" fill="#2c2ce6" filter="url(#b3)"/>
<ellipse cx="407.40" cy="552.50" rx="1.60" ry="1.40" fill="#2c2ce6" filter="url(#b3)"/>
<path d="M401.20,556.00 C405.20,554.00 408.00,557.00 408.00,565.00 C408.00,576.00 406.70,586.00 401.20,587.00 C395.70,586.00 394.40,576.00 394.40,565.00 C394.40,557.00 397.20,554.00 401.20,556.00Z" fill="#2c2ce6" filter="url(#b3)"/>
<ellipse cx="395.20" cy="583.50" rx="1.40" ry="1.80" fill="#2c2ce6" filter="url(#b3)"/>
<ellipse cx="407.20" cy="583.50" rx="1.40" ry="1.80" fill="#2c2ce6" filter="url(#b3)"/>
<ellipse cx="401.60" cy="568.00" rx="1.60" ry="2.80" fill="#70c0ff" filter="url(#b3)"/>
<ellipse cx="339.60" cy="566.00" rx="1.00" ry="1.60" fill="#5060ff" filter="url(#b3)"/>
</g>
<g clip-path="url(#c4)">
<rect x="415" y="537.6" width="103" height="48.4" fill="#2c2c28"/>
<path d="M432.3,537.6 L439.3,537.6 L436.8,582 L434.8,582 Z" fill="#a0a098" opacity="0.7" filter="url(#b2)"/>
<path d="M453.1,537.6 L460.1,537.6 L457.6,582 L455.6,582 Z" fill="#a0a098" opacity="0.7" filter="url(#b2)"/>
<path d="M474.5,537.6 L481.5,537.6 L479.0,582 L477.0,582 Z" fill="#a0a098" opacity="0.7" filter="url(#b2)"/>
<path d="M495.1,537.6 L502.1,537.6 L499.6,582 L497.6,582 Z" fill="#a0a098" opacity="0.7" filter="url(#b2)"/>
<path d="M425.60,538.20 C428.20,538.20 429.20,545.20 430.20,550.20 C432.40,555.20 434.40,564.20 434.40,572.20 C434.40,579.20 430.60,585.20 425.60,586.20 C420.60,585.20 416.80,579.20 416.80,572.20 C416.80,564.20 418.80,555.20 421.00,550.20 C422.00,545.20 423.00,538.20 425.60,538.20Z" fill="#d8d8d0" filter="url(#b1)"/>
<path d="M446.20,538.20 C448.80,538.20 449.80,545.20 450.80,550.20 C453.00,555.20 455.00,564.20 455.00,572.20 C455.00,579.20 451.20,585.20 446.20,586.20 C441.20,585.20 437.40,579.20 437.40,572.20 C437.40,564.20 439.40,555.20 441.60,550.20 C442.60,545.20 443.60,538.20 446.20,538.20Z" fill="#d8d8d0" filter="url(#b1)"/>
<path d="M467.20,538.20 C469.80,538.20 470.80,545.20 471.80,550.20 C474.00,555.20 476.00,564.20 476.00,572.20 C476.00,579.20 472.20,585.20 467.20,586.20 C462.20,585.20 458.40,579.20 458.40,572.20 C458.40,564.20 460.40,555.20 462.60,550.20 C463.60,545.20 464.60,538.20 467.20,538.20Z" fill="#d8d8d0" filter="url(#b1)"/>
<path d="M508.60,538.20 C511.20,538.20 512.20,545.20 513.20,550.20 C515.40,555.20 517.40,564.20 517.40,572.20 C517.40,579.20 513.60,585.20 508.60,586.20 C503.60,585.20 499.80,579.20 499.80,572.20 C499.80,564.20 501.80,555.20 504.00,550.20 C505.00,545.20 506.00,538.20 508.60,538.20Z" fill="#d8d8d0" filter="url(#b1)"/>
<path d="M488.60,538.00 C491.20,538.00 492.20,545.00 493.20,550.00 C495.40,555.00 499.60,564.00 499.60,572.00 C499.60,579.00 493.60,585.00 488.60,586.00 C483.60,585.00 477.60,579.00 477.60,572.00 C477.60,564.00 481.80,555.00 484.00,550.00 C485.00,545.00 486.00,538.00 488.60,538.00Z" fill="#6232d2" filter="url(#b2)" opacity="0.9"/>
<path d="M488.60,538.20 C491.20,538.20 492.20,545.20 493.20,550.20 C495.40,555.20 497.60,564.20 497.60,572.20 C497.60,579.20 493.60,585.20 488.60,586.20 C483.60,585.20 479.60,579.20 479.60,572.20 C479.60,564.20 481.80,555.20 484.00,550.20 C485.00,545.20 486.00,538.20 488.60,538.20Z" fill="#2632f4" filter="url(#b1)"/>
<ellipse cx="425.60" cy="542.00" rx="2.40" ry="3.60" fill="#2c2ce6" filter="url(#b3)"/>
<ellipse cx="419.60" cy="550.50" rx="2.20" ry="2.40" fill="#2c2ce6" filter="url(#b3)"/>
<ellipse cx="431.60" cy="550.50" rx="2.20" ry="2.40" fill="#2c2ce6" filter="url(#b3)"/>
<ellipse cx="425.60" cy="549.50" rx="1.60" ry="1.40" fill="#2c2ce6" filter="url(#b3)"/>
<ellipse cx="423.60" cy="554.00" rx="1.30" ry="1.20" fill="#2c2ce6" filter="url(#b3)"/>
<ellipse cx="425.60" cy="576.00" rx="7.80" ry="7.60" fill="#2c2ce6" filter="url(#b3)"/>
<ellipse cx="420.10" cy="583.50" rx="3.00" ry="3.00" fill="#2c2ce6" filter="url(#b3)"/>
<ellipse cx="431.10" cy="583.50" rx="3.00" ry="3.00" fill="#2c2ce6" filter="url(#b3)"/>
<ellipse cx="446.20" cy="542.00" rx="2.40" ry="3.60" fill="#2c2ce6" filter="url(#b3)"/>
<ellipse cx="440.20" cy="550.50" rx="2.20" ry="2.40" fill="#2c2ce6" filter="url(#b3)"/>
<ellipse cx="452.20" cy="550.50" rx="2.20" ry="2.40" fill="#2c2ce6" filter="url(#b3)"/>
<ellipse cx="446.20" cy="549.50" rx="1.60" ry="1.40" fill="#2c2ce6" filter="url(#b3)"/>
<ellipse cx="444.20" cy="554.00" rx="1.30" ry="1.20" fill="#2c2ce6" filter="url(#b3)"/>
<ellipse cx="446.20" cy="576.00" rx="7.80" ry="7.60" fill="#2c2ce6" filter="url(#b3)"/>
<ellipse cx="440.70" cy="583.50" rx="3.00" ry="3.00" fill="#2c2ce6" filter="url(#b3)"/>
<ellipse cx="451.70" cy="583.50" rx="3.00" ry="3.00" fill="#2c2ce6" filter="url(#b3)"/>
<ellipse cx="467.20" cy="542.00" rx="2.40" ry="3.60" fill="#2c2ce6" filter="url(#b3)"/>
<ellipse cx="461.20" cy="550.50" rx="2.20" ry="2.40" fill="#2c2ce6" filter="url(#b3)"/>
<ellipse cx="473.20" cy="550.50" rx="2.20" ry="2.40" fill="#2c2ce6" filter="url(#b3)"/>
<ellipse cx="467.20" cy="549.50" rx="1.60" ry="1.40" fill="#2c2ce6" filter="url(#b3)"/>
<ellipse cx="465.20" cy="554.00" rx="1.30" ry="1.20" fill="#2c2ce6" filter="url(#b3)"/>
<ellipse cx="467.20" cy="576.00" rx="7.80" ry="7.60" fill="#2c2ce6" filter="url(#b3)"/>
<ellipse cx="461.70" cy="583.50" rx="3.00" ry="3.00" fill="#2c2ce6" filter="url(#b3)"/>
<ellipse cx="472.70" cy="583.50" rx="3.00" ry="3.00" fill="#2c2ce6" filter="url(#b3)"/>
<ellipse cx="508.60" cy="542.00" rx="2.40" ry="3.60" fill="#2c2ce6" filter="url(#b3)"/>
<ellipse cx="502.60" cy="550.50" rx="2.20" ry="2.40" fill="#2c2ce6" filter="url(#b3)"/>
<ellipse cx="514.60" cy="550.50" rx="2.20" ry="2.40" fill="#2c2ce6" filter="url(#b3)"/>
<ellipse cx="508.60" cy="549.50" rx="1.60" ry="1.40" fill="#2c2ce6" filter="url(#b3)"/>
<ellipse cx="506.60" cy="554.00" rx="1.30" ry="1.20" fill="#2c2ce6" filter="url(#b3)"/>
<ellipse cx="508.60" cy="576.00" rx="7.80" ry="7.60" fill="#2c2ce6" filter="url(#b3)"/>
<ellipse cx="503.10" cy="583.50" rx="3.00" ry="3.00" fill="#2c2ce6" filter="url(#b3)"/>
<ellipse cx="514.10" cy="583.50" rx="3.00" ry="3.00" fill="#2c2ce6" filter="url(#b3)"/>
<ellipse cx="488.60" cy="571.00" rx="5.20" ry="7.20" fill="#48d8f0" filter="url(#b1)"/>
<ellipse cx="488.60" cy="571.00" rx="3.47" ry="4.80" fill="#70e860" filter="url(#b1)"/>
<ellipse cx="488.60" cy="571.00" rx="1.73" ry="2.40" fill="#a8e880" filter="url(#b1)"/>
<ellipse cx="482.50" cy="549.50" rx="1.40" ry="1.80" fill="#48d8f0" filter="url(#b3)"/>
<ellipse cx="494.70" cy="549.50" rx="1.40" ry="1.80" fill="#48d8f0" filter="url(#b3)"/>
<ellipse cx="484.00" cy="582.50" rx="1.30" ry="1.30" fill="#48d8f0" filter="url(#b3)"/>
<ellipse cx="493.00" cy="582.50" rx="1.30" ry="1.30" fill="#48d8f0" filter="url(#b3)"/>
</g>
<rect x="444.9" y="598.1" width="66.2" height="5.4" fill="url(#cbar)"/>
<text x="477.80" y="595.40" font-size="5.3" text-anchor="middle" fill="#222" stroke="#222" stroke-width="0.22">Luminescence (p/sec/cm<tspan dy="-1.8" font-size="3.5">2</tspan><tspan dy="1.8">/sr)</tspan></text>
<text x="454.40" y="612.00" font-size="6.2" text-anchor="middle" fill="#333" stroke="#333" stroke-width="0.22">1.0</text>
<text x="468.80" y="612.00" font-size="6.2" text-anchor="middle" fill="#333" stroke="#333" stroke-width="0.22">2.0</text>
<text x="483.10" y="612.00" font-size="6.2" text-anchor="middle" fill="#333" stroke="#333" stroke-width="0.22">3.0</text>
<text x="497.30" y="612.00" font-size="6.2" text-anchor="middle" fill="#333" stroke="#333" stroke-width="0.22">4.0</text>
<text x="511.20" y="612.00" font-size="6.2" text-anchor="middle" fill="#333" stroke="#333" stroke-width="0.22">5.0</text>
<text x="481.70" y="620.60" font-size="6.0" text-anchor="middle" fill="#333" stroke="#333" stroke-width="0.22">(x10<tspan dy="-2" font-size="4">6</tspan><tspan dy="2">)</tspan></text>
</g>
</svg>
</body></html>
